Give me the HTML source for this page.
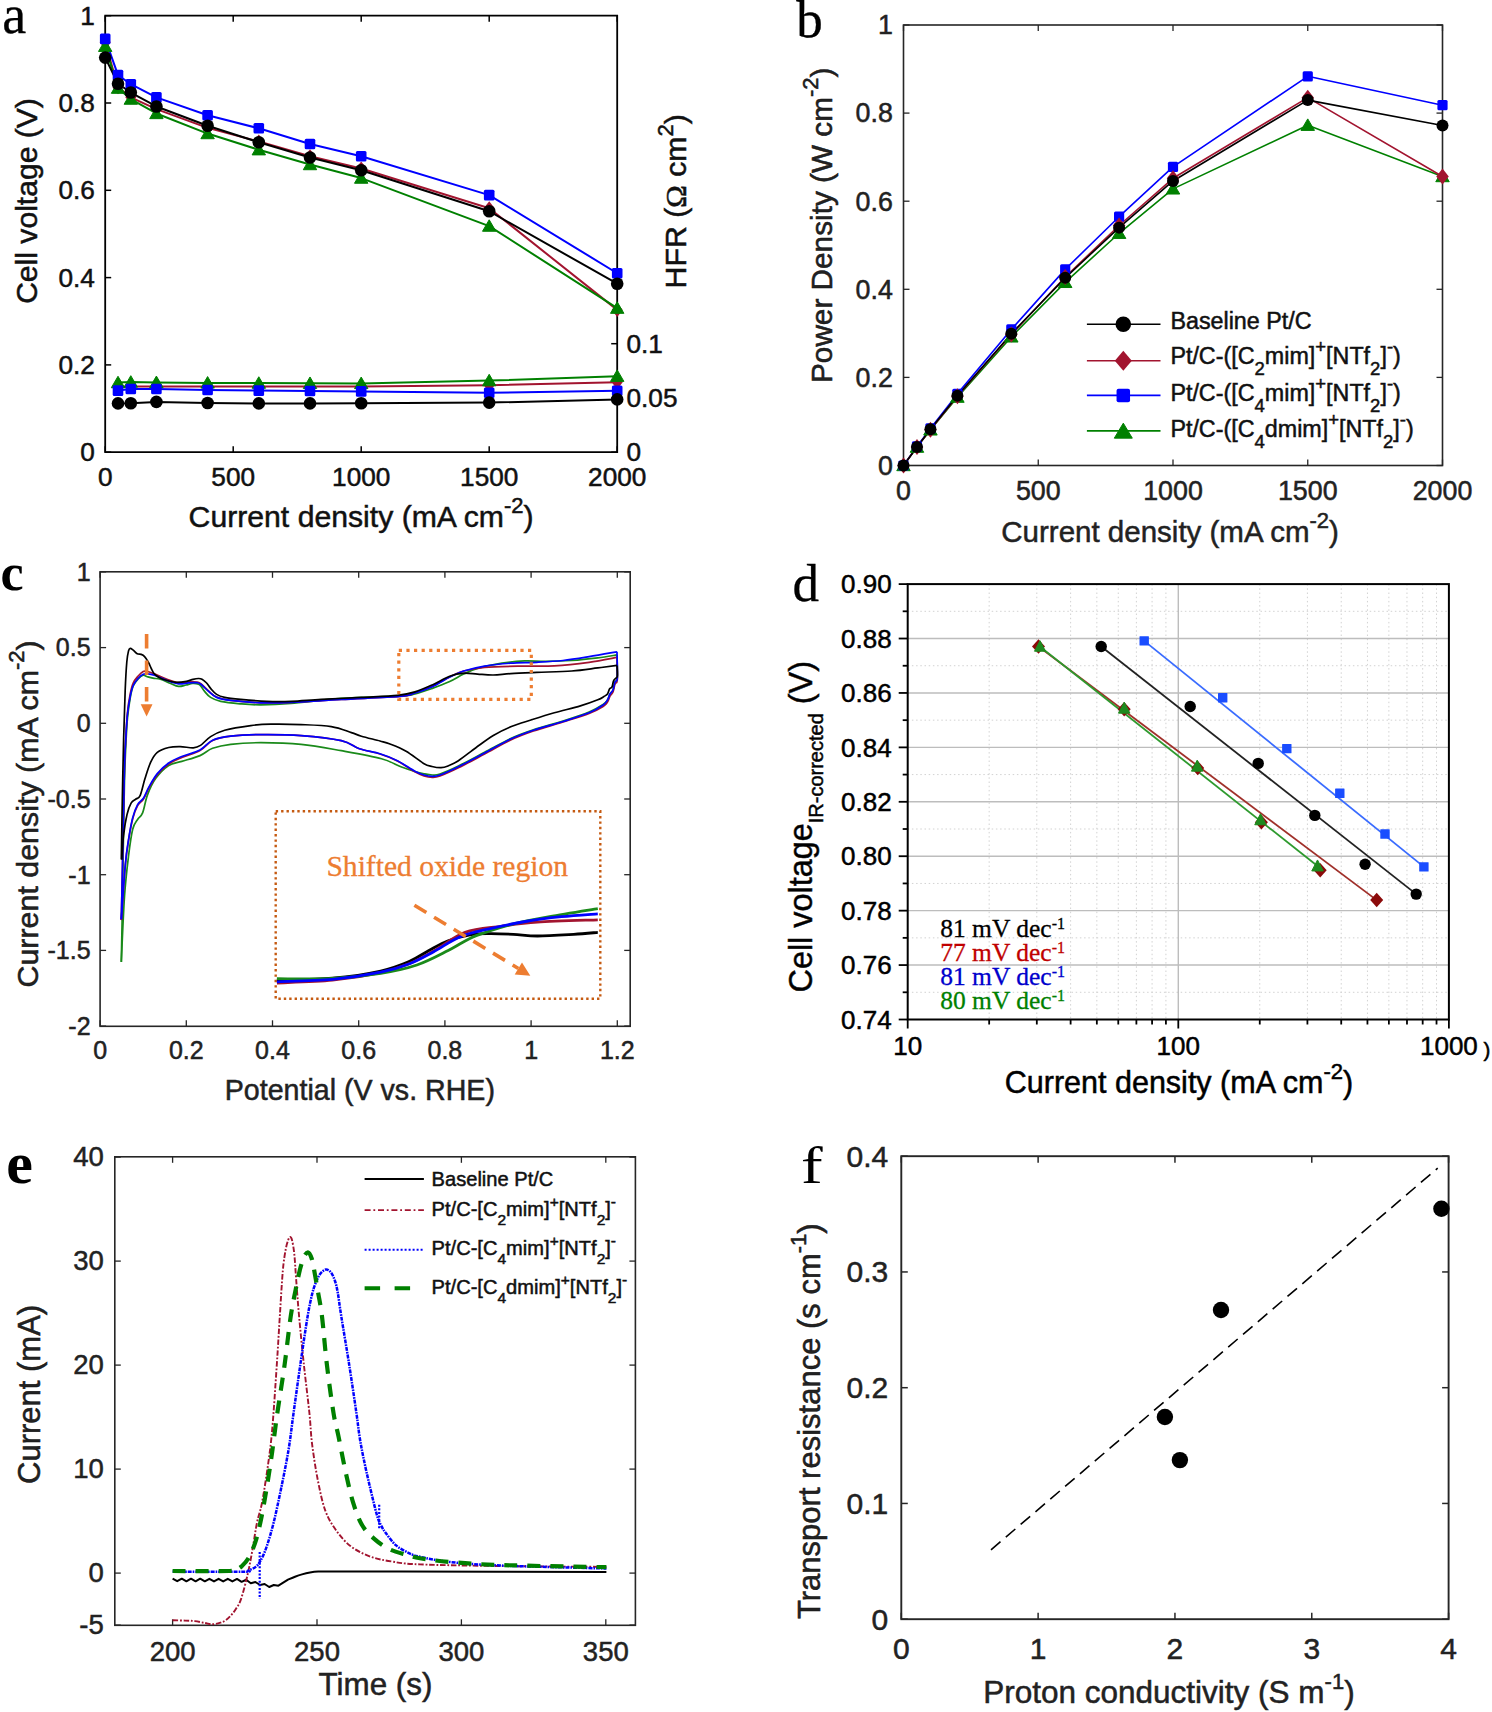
<!DOCTYPE html>
<html><head><meta charset="utf-8"><style>
html,body{margin:0;padding:0;background:#fff;}
svg{display:block;}

</style></head><body>
<svg width="1492" height="1712" viewBox="0 0 1492 1712">
<rect width="1492" height="1712" fill="#fff"/>
<line x1="105.2" y1="452.2" x2="105.2" y2="446.2" stroke="#000000" stroke-width="1.5" />
<line x1="105.2" y1="15.7" x2="105.2" y2="21.7" stroke="#000000" stroke-width="1.5" />
<text x="105.2" y="485.5" font-size="26.2" text-anchor="middle" font-family='"Liberation Sans", sans-serif' fill="#111" stroke="#111" stroke-width="0.5" >0</text>
<line x1="233.2" y1="452.2" x2="233.2" y2="446.2" stroke="#000000" stroke-width="1.5" />
<line x1="233.2" y1="15.7" x2="233.2" y2="21.7" stroke="#000000" stroke-width="1.5" />
<text x="233.2" y="485.5" font-size="26.2" text-anchor="middle" font-family='"Liberation Sans", sans-serif' fill="#111" stroke="#111" stroke-width="0.5" >500</text>
<line x1="361.2" y1="452.2" x2="361.2" y2="446.2" stroke="#000000" stroke-width="1.5" />
<line x1="361.2" y1="15.7" x2="361.2" y2="21.7" stroke="#000000" stroke-width="1.5" />
<text x="361.2" y="485.5" font-size="26.2" text-anchor="middle" font-family='"Liberation Sans", sans-serif' fill="#111" stroke="#111" stroke-width="0.5" >1000</text>
<line x1="489.2" y1="452.2" x2="489.2" y2="446.2" stroke="#000000" stroke-width="1.5" />
<line x1="489.2" y1="15.7" x2="489.2" y2="21.7" stroke="#000000" stroke-width="1.5" />
<text x="489.2" y="485.5" font-size="26.2" text-anchor="middle" font-family='"Liberation Sans", sans-serif' fill="#111" stroke="#111" stroke-width="0.5" >1500</text>
<line x1="617.2" y1="452.2" x2="617.2" y2="446.2" stroke="#000000" stroke-width="1.5" />
<line x1="617.2" y1="15.7" x2="617.2" y2="21.7" stroke="#000000" stroke-width="1.5" />
<text x="617.2" y="485.5" font-size="26.2" text-anchor="middle" font-family='"Liberation Sans", sans-serif' fill="#111" stroke="#111" stroke-width="0.5" >2000</text>
<line x1="105.2" y1="452.2" x2="111.2" y2="452.2" stroke="#000000" stroke-width="1.5" />
<text x="94.8" y="461.3" font-size="26.2" text-anchor="end" font-family='"Liberation Sans", sans-serif' fill="#111" stroke="#111" stroke-width="0.5" >0</text>
<line x1="105.2" y1="364.9" x2="111.2" y2="364.9" stroke="#000000" stroke-width="1.5" />
<text x="94.8" y="374" font-size="26.2" text-anchor="end" font-family='"Liberation Sans", sans-serif' fill="#111" stroke="#111" stroke-width="0.5" >0.2</text>
<line x1="105.2" y1="277.6" x2="111.2" y2="277.6" stroke="#000000" stroke-width="1.5" />
<text x="94.8" y="286.7" font-size="26.2" text-anchor="end" font-family='"Liberation Sans", sans-serif' fill="#111" stroke="#111" stroke-width="0.5" >0.4</text>
<line x1="105.2" y1="190.3" x2="111.2" y2="190.3" stroke="#000000" stroke-width="1.5" />
<text x="94.8" y="199.4" font-size="26.2" text-anchor="end" font-family='"Liberation Sans", sans-serif' fill="#111" stroke="#111" stroke-width="0.5" >0.6</text>
<line x1="105.2" y1="103" x2="111.2" y2="103" stroke="#000000" stroke-width="1.5" />
<text x="94.8" y="112.1" font-size="26.2" text-anchor="end" font-family='"Liberation Sans", sans-serif' fill="#111" stroke="#111" stroke-width="0.5" >0.8</text>
<line x1="105.2" y1="15.7" x2="111.2" y2="15.7" stroke="#000000" stroke-width="1.5" />
<text x="94.8" y="24.8" font-size="26.2" text-anchor="end" font-family='"Liberation Sans", sans-serif' fill="#111" stroke="#111" stroke-width="0.5" >1</text>
<line x1="617.2" y1="452.2" x2="611.2" y2="452.2" stroke="#000000" stroke-width="1.5" />
<text x="626.5" y="461.3" font-size="26.2" text-anchor="start" font-family='"Liberation Sans", sans-serif' fill="#111" stroke="#111" stroke-width="0.5" >0</text>
<line x1="617.2" y1="397.95" x2="611.2" y2="397.95" stroke="#000000" stroke-width="1.5" />
<text x="626.5" y="407.05" font-size="26.2" text-anchor="start" font-family='"Liberation Sans", sans-serif' fill="#111" stroke="#111" stroke-width="0.5" >0.05</text>
<line x1="617.2" y1="343.7" x2="611.2" y2="343.7" stroke="#000000" stroke-width="1.5" />
<text x="626.5" y="352.8" font-size="26.2" text-anchor="start" font-family='"Liberation Sans", sans-serif' fill="#111" stroke="#111" stroke-width="0.5" >0.1</text>
<path d="M105.2,15.7 L617.2,15.7 L617.2,452.2 L105.2,452.2 Z" fill="none" stroke="#000" stroke-width="1.8"/>
<path d="M105.2,42.33 L118,87.29 L130.8,97.33 L156.4,109.11 L207.6,127.88 L258.8,141.41 L310,156.25 L361.2,168.47 L489.2,208.2 L617.2,309.9" fill="none" stroke="#a2142f" stroke-width="2" stroke-linejoin="round" />
<path d="M118,387 L130.8,386.4 L156.4,386.4 L207.6,386.6 L258.8,386.6 L310,386.5 L361.2,386.4 L489.2,385.2 L617.2,382.2" fill="none" stroke="#a2142f" stroke-width="2" stroke-linejoin="round" />
<path d="M105.2,46.25 L118,88.16 L130.8,99.07 L156.4,113.48 L207.6,133.56 L258.8,149.71 L310,164.55 L361.2,178.08 L489.2,226.09 L617.2,308.15" fill="none" stroke="#008000" stroke-width="2" stroke-linejoin="round" />
<path d="M118,382.6 L130.8,382 L156.4,382.4 L207.6,382.9 L258.8,383.1 L310,383.3 L361.2,383.4 L489.2,380.6 L617.2,376.2" fill="none" stroke="#008000" stroke-width="2" stroke-linejoin="round" />
<path d="M105.2,38.83 L118,75.06 L130.8,84.23 L156.4,97.33 L207.6,115.22 L258.8,128.32 L310,144.03 L361.2,156.25 L489.2,195.1 L617.2,273.24" fill="none" stroke="#0000ff" stroke-width="2" stroke-linejoin="round" />
<path d="M118,390.6 L130.8,389 L156.4,389 L207.6,390 L258.8,390.6 L310,391 L361.2,391.4 L489.2,392.8 L617.2,390.8" fill="none" stroke="#0000ff" stroke-width="2" stroke-linejoin="round" />
<path d="M105.2,57.6 L118,83.79 L130.8,92.52 L156.4,106.49 L207.6,125.7 L258.8,142.29 L310,157.56 L361.2,170.22 L489.2,211.25 L617.2,283.71" fill="none" stroke="#000000" stroke-width="2" stroke-linejoin="round" />
<path d="M118,403.4 L130.8,403.2 L156.4,401.9 L207.6,403 L258.8,403.4 L310,403.4 L361.2,403.3 L489.2,402.6 L617.2,399.4" fill="none" stroke="#000000" stroke-width="2" stroke-linejoin="round" />
<path d="M105.2,35.33 L110.7,42.33 L105.2,49.33 L99.7,42.33 Z" fill="#a2142f"/>
<path d="M118,80.29 L123.5,87.29 L118,94.29 L112.5,87.29 Z" fill="#a2142f"/>
<path d="M130.8,90.33 L136.3,97.33 L130.8,104.33 L125.3,97.33 Z" fill="#a2142f"/>
<path d="M156.4,102.11 L161.9,109.11 L156.4,116.11 L150.9,109.11 Z" fill="#a2142f"/>
<path d="M207.6,120.88 L213.1,127.88 L207.6,134.88 L202.1,127.88 Z" fill="#a2142f"/>
<path d="M258.8,134.41 L264.3,141.41 L258.8,148.41 L253.3,141.41 Z" fill="#a2142f"/>
<path d="M310,149.25 L315.5,156.25 L310,163.25 L304.5,156.25 Z" fill="#a2142f"/>
<path d="M361.2,161.47 L366.7,168.47 L361.2,175.47 L355.7,168.47 Z" fill="#a2142f"/>
<path d="M489.2,201.2 L494.7,208.2 L489.2,215.2 L483.7,208.2 Z" fill="#a2142f"/>
<path d="M617.2,302.9 L622.7,309.9 L617.2,316.9 L611.7,309.9 Z" fill="#a2142f"/>
<path d="M118,380 L123.5,387 L118,394 L112.5,387 Z" fill="#a2142f"/>
<path d="M130.8,379.4 L136.3,386.4 L130.8,393.4 L125.3,386.4 Z" fill="#a2142f"/>
<path d="M156.4,379.4 L161.9,386.4 L156.4,393.4 L150.9,386.4 Z" fill="#a2142f"/>
<path d="M207.6,379.6 L213.1,386.6 L207.6,393.6 L202.1,386.6 Z" fill="#a2142f"/>
<path d="M258.8,379.6 L264.3,386.6 L258.8,393.6 L253.3,386.6 Z" fill="#a2142f"/>
<path d="M310,379.5 L315.5,386.5 L310,393.5 L304.5,386.5 Z" fill="#a2142f"/>
<path d="M361.2,379.4 L366.7,386.4 L361.2,393.4 L355.7,386.4 Z" fill="#a2142f"/>
<path d="M489.2,378.2 L494.7,385.2 L489.2,392.2 L483.7,385.2 Z" fill="#a2142f"/>
<path d="M617.2,375.2 L622.7,382.2 L617.2,389.2 L611.7,382.2 Z" fill="#a2142f"/>
<path d="M105.2,39.93 L111.9,51.43 L98.5,51.43 Z" fill="#008000" stroke="#008000" stroke-width="1" stroke-linejoin="round"/>
<path d="M118,81.83 L124.7,93.33 L111.3,93.33 Z" fill="#008000" stroke="#008000" stroke-width="1" stroke-linejoin="round"/>
<path d="M130.8,92.75 L137.5,104.25 L124.1,104.25 Z" fill="#008000" stroke="#008000" stroke-width="1" stroke-linejoin="round"/>
<path d="M156.4,107.15 L163.1,118.65 L149.7,118.65 Z" fill="#008000" stroke="#008000" stroke-width="1" stroke-linejoin="round"/>
<path d="M207.6,127.23 L214.3,138.73 L200.9,138.73 Z" fill="#008000" stroke="#008000" stroke-width="1" stroke-linejoin="round"/>
<path d="M258.8,143.38 L265.5,154.88 L252.1,154.88 Z" fill="#008000" stroke="#008000" stroke-width="1" stroke-linejoin="round"/>
<path d="M310,158.22 L316.7,169.72 L303.3,169.72 Z" fill="#008000" stroke="#008000" stroke-width="1" stroke-linejoin="round"/>
<path d="M361.2,171.75 L367.9,183.25 L354.5,183.25 Z" fill="#008000" stroke="#008000" stroke-width="1" stroke-linejoin="round"/>
<path d="M489.2,219.77 L495.9,231.27 L482.5,231.27 Z" fill="#008000" stroke="#008000" stroke-width="1" stroke-linejoin="round"/>
<path d="M617.2,301.83 L623.9,313.33 L610.5,313.33 Z" fill="#008000" stroke="#008000" stroke-width="1" stroke-linejoin="round"/>
<path d="M118,376.28 L124.7,387.78 L111.3,387.78 Z" fill="#008000" stroke="#008000" stroke-width="1" stroke-linejoin="round"/>
<path d="M130.8,375.68 L137.5,387.18 L124.1,387.18 Z" fill="#008000" stroke="#008000" stroke-width="1" stroke-linejoin="round"/>
<path d="M156.4,376.07 L163.1,387.57 L149.7,387.57 Z" fill="#008000" stroke="#008000" stroke-width="1" stroke-linejoin="round"/>
<path d="M207.6,376.57 L214.3,388.07 L200.9,388.07 Z" fill="#008000" stroke="#008000" stroke-width="1" stroke-linejoin="round"/>
<path d="M258.8,376.78 L265.5,388.28 L252.1,388.28 Z" fill="#008000" stroke="#008000" stroke-width="1" stroke-linejoin="round"/>
<path d="M310,376.98 L316.7,388.48 L303.3,388.48 Z" fill="#008000" stroke="#008000" stroke-width="1" stroke-linejoin="round"/>
<path d="M361.2,377.07 L367.9,388.57 L354.5,388.57 Z" fill="#008000" stroke="#008000" stroke-width="1" stroke-linejoin="round"/>
<path d="M489.2,374.28 L495.9,385.78 L482.5,385.78 Z" fill="#008000" stroke="#008000" stroke-width="1" stroke-linejoin="round"/>
<path d="M617.2,369.88 L623.9,381.38 L610.5,381.38 Z" fill="#008000" stroke="#008000" stroke-width="1" stroke-linejoin="round"/>
<rect x="99.9" y="33.53" width="10.6" height="10.6" rx="1.5" fill="#0000ff"/>
<rect x="112.7" y="69.76" width="10.6" height="10.6" rx="1.5" fill="#0000ff"/>
<rect x="125.5" y="78.93" width="10.6" height="10.6" rx="1.5" fill="#0000ff"/>
<rect x="151.1" y="92.03" width="10.6" height="10.6" rx="1.5" fill="#0000ff"/>
<rect x="202.3" y="109.92" width="10.6" height="10.6" rx="1.5" fill="#0000ff"/>
<rect x="253.5" y="123.02" width="10.6" height="10.6" rx="1.5" fill="#0000ff"/>
<rect x="304.7" y="138.73" width="10.6" height="10.6" rx="1.5" fill="#0000ff"/>
<rect x="355.9" y="150.95" width="10.6" height="10.6" rx="1.5" fill="#0000ff"/>
<rect x="483.9" y="189.8" width="10.6" height="10.6" rx="1.5" fill="#0000ff"/>
<rect x="611.9" y="267.94" width="10.6" height="10.6" rx="1.5" fill="#0000ff"/>
<rect x="112.7" y="385.3" width="10.6" height="10.6" rx="1.5" fill="#0000ff"/>
<rect x="125.5" y="383.7" width="10.6" height="10.6" rx="1.5" fill="#0000ff"/>
<rect x="151.1" y="383.7" width="10.6" height="10.6" rx="1.5" fill="#0000ff"/>
<rect x="202.3" y="384.7" width="10.6" height="10.6" rx="1.5" fill="#0000ff"/>
<rect x="253.5" y="385.3" width="10.6" height="10.6" rx="1.5" fill="#0000ff"/>
<rect x="304.7" y="385.7" width="10.6" height="10.6" rx="1.5" fill="#0000ff"/>
<rect x="355.9" y="386.1" width="10.6" height="10.6" rx="1.5" fill="#0000ff"/>
<rect x="483.9" y="387.5" width="10.6" height="10.6" rx="1.5" fill="#0000ff"/>
<rect x="611.9" y="385.5" width="10.6" height="10.6" rx="1.5" fill="#0000ff"/>
<circle cx="105.2" cy="57.6" r="6.3" fill="#000000"/>
<circle cx="118" cy="83.79" r="6.3" fill="#000000"/>
<circle cx="130.8" cy="92.52" r="6.3" fill="#000000"/>
<circle cx="156.4" cy="106.49" r="6.3" fill="#000000"/>
<circle cx="207.6" cy="125.7" r="6.3" fill="#000000"/>
<circle cx="258.8" cy="142.29" r="6.3" fill="#000000"/>
<circle cx="310" cy="157.56" r="6.3" fill="#000000"/>
<circle cx="361.2" cy="170.22" r="6.3" fill="#000000"/>
<circle cx="489.2" cy="211.25" r="6.3" fill="#000000"/>
<circle cx="617.2" cy="283.71" r="6.3" fill="#000000"/>
<circle cx="118" cy="403.4" r="6.3" fill="#000000"/>
<circle cx="130.8" cy="403.2" r="6.3" fill="#000000"/>
<circle cx="156.4" cy="401.9" r="6.3" fill="#000000"/>
<circle cx="207.6" cy="403" r="6.3" fill="#000000"/>
<circle cx="258.8" cy="403.4" r="6.3" fill="#000000"/>
<circle cx="310" cy="403.4" r="6.3" fill="#000000"/>
<circle cx="361.2" cy="403.3" r="6.3" fill="#000000"/>
<circle cx="489.2" cy="402.6" r="6.3" fill="#000000"/>
<circle cx="617.2" cy="399.4" r="6.3" fill="#000000"/>
<text x="188.6" y="526.7" font-size="30.2" text-anchor="start" font-family='"Liberation Sans", sans-serif' fill="#111" stroke="#111" stroke-width="0.5" >Current density (mA cm<tspan dy="-14" font-size="22">-2</tspan><tspan dy="14">)</tspan></text>
<text transform="translate(36.6,201) rotate(-90)" stroke="#111" stroke-width="0.5" font-size="30.1" text-anchor="middle" font-family='"Liberation Sans", sans-serif' fill="#111">Cell voltage (V)</text>
<text transform="translate(686.3,288.5) rotate(-90)" stroke="#111" stroke-width="0.5" font-size="30.3" text-anchor="start" font-family='"Liberation Sans", sans-serif' fill="#111">HFR (<tspan font-family='"Liberation Serif", serif'>&#937;</tspan> cm<tspan dy="-13" font-size="22">2</tspan><tspan dy="13">)</tspan></text>
<text x="2.2" y="32.6" font-size="54" text-anchor="start" font-family='"Liberation Serif", serif' fill="#000" stroke="#000" stroke-width="0.3" >a</text>
<line x1="903.5" y1="465.5" x2="903.5" y2="459.5" stroke="#262626" stroke-width="1.3" />
<line x1="903.5" y1="25" x2="903.5" y2="31" stroke="#262626" stroke-width="1.3" />
<text x="903.5" y="499.5" font-size="26.8" text-anchor="middle" font-family='"Liberation Sans", sans-serif' fill="#222" stroke="#222" stroke-width="0.5" >0</text>
<line x1="1038.25" y1="465.5" x2="1038.25" y2="459.5" stroke="#262626" stroke-width="1.3" />
<line x1="1038.25" y1="25" x2="1038.25" y2="31" stroke="#262626" stroke-width="1.3" />
<text x="1038.25" y="499.5" font-size="26.8" text-anchor="middle" font-family='"Liberation Sans", sans-serif' fill="#222" stroke="#222" stroke-width="0.5" >500</text>
<line x1="1173" y1="465.5" x2="1173" y2="459.5" stroke="#262626" stroke-width="1.3" />
<line x1="1173" y1="25" x2="1173" y2="31" stroke="#262626" stroke-width="1.3" />
<text x="1173" y="499.5" font-size="26.8" text-anchor="middle" font-family='"Liberation Sans", sans-serif' fill="#222" stroke="#222" stroke-width="0.5" >1000</text>
<line x1="1307.75" y1="465.5" x2="1307.75" y2="459.5" stroke="#262626" stroke-width="1.3" />
<line x1="1307.75" y1="25" x2="1307.75" y2="31" stroke="#262626" stroke-width="1.3" />
<text x="1307.75" y="499.5" font-size="26.8" text-anchor="middle" font-family='"Liberation Sans", sans-serif' fill="#222" stroke="#222" stroke-width="0.5" >1500</text>
<line x1="1442.5" y1="465.5" x2="1442.5" y2="459.5" stroke="#262626" stroke-width="1.3" />
<line x1="1442.5" y1="25" x2="1442.5" y2="31" stroke="#262626" stroke-width="1.3" />
<text x="1442.5" y="499.5" font-size="26.8" text-anchor="middle" font-family='"Liberation Sans", sans-serif' fill="#222" stroke="#222" stroke-width="0.5" >2000</text>
<line x1="903.5" y1="465.5" x2="909.5" y2="465.5" stroke="#262626" stroke-width="1.3" />
<line x1="1442.5" y1="465.5" x2="1436.5" y2="465.5" stroke="#262626" stroke-width="1.3" />
<text x="892.8" y="474.8" font-size="26.8" text-anchor="end" font-family='"Liberation Sans", sans-serif' fill="#222" stroke="#222" stroke-width="0.5" >0</text>
<line x1="903.5" y1="377.4" x2="909.5" y2="377.4" stroke="#262626" stroke-width="1.3" />
<line x1="1442.5" y1="377.4" x2="1436.5" y2="377.4" stroke="#262626" stroke-width="1.3" />
<text x="892.8" y="386.7" font-size="26.8" text-anchor="end" font-family='"Liberation Sans", sans-serif' fill="#222" stroke="#222" stroke-width="0.5" >0.2</text>
<line x1="903.5" y1="289.3" x2="909.5" y2="289.3" stroke="#262626" stroke-width="1.3" />
<line x1="1442.5" y1="289.3" x2="1436.5" y2="289.3" stroke="#262626" stroke-width="1.3" />
<text x="892.8" y="298.6" font-size="26.8" text-anchor="end" font-family='"Liberation Sans", sans-serif' fill="#222" stroke="#222" stroke-width="0.5" >0.4</text>
<line x1="903.5" y1="201.2" x2="909.5" y2="201.2" stroke="#262626" stroke-width="1.3" />
<line x1="1442.5" y1="201.2" x2="1436.5" y2="201.2" stroke="#262626" stroke-width="1.3" />
<text x="892.8" y="210.5" font-size="26.8" text-anchor="end" font-family='"Liberation Sans", sans-serif' fill="#222" stroke="#222" stroke-width="0.5" >0.6</text>
<line x1="903.5" y1="113.1" x2="909.5" y2="113.1" stroke="#262626" stroke-width="1.3" />
<line x1="1442.5" y1="113.1" x2="1436.5" y2="113.1" stroke="#262626" stroke-width="1.3" />
<text x="892.8" y="122.4" font-size="26.8" text-anchor="end" font-family='"Liberation Sans", sans-serif' fill="#222" stroke="#222" stroke-width="0.5" >0.8</text>
<line x1="903.5" y1="25" x2="909.5" y2="25" stroke="#262626" stroke-width="1.3" />
<line x1="1442.5" y1="25" x2="1436.5" y2="25" stroke="#262626" stroke-width="1.3" />
<text x="892.8" y="34.3" font-size="26.8" text-anchor="end" font-family='"Liberation Sans", sans-serif' fill="#222" stroke="#222" stroke-width="0.5" >1</text>
<rect x="903.5" y="25.0" width="539.0" height="440.5" fill="none" stroke="#262626" stroke-width="1.6"/>
<path d="M903.5,465.5 L916.98,447.13 L930.45,429.86 L957.4,397.13 L1011.3,336.87 L1065.2,282.34 L1119.1,233.27 L1173,188.87 L1307.75,125.21 L1442.5,176.53" fill="none" stroke="#008000" stroke-width="1.6" stroke-linejoin="round" />
<path d="M903.5,465.5 L916.98,446.47 L930.45,428.37 L957.4,393.87 L1011.3,329.47 L1065.2,269.39 L1119.1,216.71 L1173,166.84 L1307.75,76.32 L1442.5,105.17" fill="none" stroke="#0000ff" stroke-width="1.6" stroke-linejoin="round" />
<path d="M903.5,465.5 L916.98,447.09 L930.45,429.69 L957.4,396.25 L1011.3,334.58 L1065.2,277.05 L1119.1,225.52 L1173,178.29 L1307.75,97.66 L1442.5,176.53" fill="none" stroke="#a2142f" stroke-width="1.6" stroke-linejoin="round" />
<path d="M903.5,465.5 L916.98,446.91 L930.45,429.2 L957.4,395.72 L1011.3,333.7 L1065.2,277.85 L1119.1,227.63 L1173,180.94 L1307.75,100.11 L1442.5,125.43" fill="none" stroke="#000000" stroke-width="1.6" stroke-linejoin="round" />
<path d="M903.5,459.18 L910.25,470.68 L896.75,470.68 Z" fill="#008000" stroke="#008000" stroke-width="1" stroke-linejoin="round"/>
<path d="M916.98,440.81 L923.73,452.31 L910.23,452.31 Z" fill="#008000" stroke="#008000" stroke-width="1" stroke-linejoin="round"/>
<path d="M930.45,423.54 L937.2,435.04 L923.7,435.04 Z" fill="#008000" stroke="#008000" stroke-width="1" stroke-linejoin="round"/>
<path d="M957.4,390.81 L964.15,402.31 L950.65,402.31 Z" fill="#008000" stroke="#008000" stroke-width="1" stroke-linejoin="round"/>
<path d="M1011.3,330.55 L1018.05,342.05 L1004.55,342.05 Z" fill="#008000" stroke="#008000" stroke-width="1" stroke-linejoin="round"/>
<path d="M1065.2,276.02 L1071.95,287.52 L1058.45,287.52 Z" fill="#008000" stroke="#008000" stroke-width="1" stroke-linejoin="round"/>
<path d="M1119.1,226.94 L1125.85,238.44 L1112.35,238.44 Z" fill="#008000" stroke="#008000" stroke-width="1" stroke-linejoin="round"/>
<path d="M1173,182.54 L1179.75,194.04 L1166.25,194.04 Z" fill="#008000" stroke="#008000" stroke-width="1" stroke-linejoin="round"/>
<path d="M1307.75,118.89 L1314.5,130.39 L1301,130.39 Z" fill="#008000" stroke="#008000" stroke-width="1" stroke-linejoin="round"/>
<path d="M1442.5,170.21 L1449.25,181.71 L1435.75,181.71 Z" fill="#008000" stroke="#008000" stroke-width="1" stroke-linejoin="round"/>
<rect x="898.4" y="460.4" width="10.2" height="10.2" rx="1.5" fill="#0000ff"/>
<rect x="911.88" y="441.37" width="10.2" height="10.2" rx="1.5" fill="#0000ff"/>
<rect x="925.35" y="423.27" width="10.2" height="10.2" rx="1.5" fill="#0000ff"/>
<rect x="952.3" y="388.77" width="10.2" height="10.2" rx="1.5" fill="#0000ff"/>
<rect x="1006.2" y="324.37" width="10.2" height="10.2" rx="1.5" fill="#0000ff"/>
<rect x="1060.1" y="264.29" width="10.2" height="10.2" rx="1.5" fill="#0000ff"/>
<rect x="1114" y="211.61" width="10.2" height="10.2" rx="1.5" fill="#0000ff"/>
<rect x="1167.9" y="161.74" width="10.2" height="10.2" rx="1.5" fill="#0000ff"/>
<rect x="1302.65" y="71.22" width="10.2" height="10.2" rx="1.5" fill="#0000ff"/>
<rect x="1437.4" y="100.07" width="10.2" height="10.2" rx="1.5" fill="#0000ff"/>
<path d="M903.5,457.5 L909.75,465.5 L903.5,473.5 L897.25,465.5 Z" fill="#a2142f"/>
<path d="M916.98,439.09 L923.23,447.09 L916.98,455.09 L910.73,447.09 Z" fill="#a2142f"/>
<path d="M930.45,421.69 L936.7,429.69 L930.45,437.69 L924.2,429.69 Z" fill="#a2142f"/>
<path d="M957.4,388.25 L963.65,396.25 L957.4,404.25 L951.15,396.25 Z" fill="#a2142f"/>
<path d="M1011.3,326.58 L1017.55,334.58 L1011.3,342.58 L1005.05,334.58 Z" fill="#a2142f"/>
<path d="M1065.2,269.05 L1071.45,277.05 L1065.2,285.05 L1058.95,277.05 Z" fill="#a2142f"/>
<path d="M1119.1,217.52 L1125.35,225.52 L1119.1,233.52 L1112.85,225.52 Z" fill="#a2142f"/>
<path d="M1173,170.29 L1179.25,178.29 L1173,186.29 L1166.75,178.29 Z" fill="#a2142f"/>
<path d="M1307.75,89.66 L1314,97.66 L1307.75,105.66 L1301.5,97.66 Z" fill="#a2142f"/>
<path d="M1442.5,168.53 L1448.75,176.53 L1442.5,184.53 L1436.25,176.53 Z" fill="#a2142f"/>
<circle cx="903.5" cy="465.5" r="6" fill="#000000"/>
<circle cx="916.98" cy="446.91" r="6" fill="#000000"/>
<circle cx="930.45" cy="429.2" r="6" fill="#000000"/>
<circle cx="957.4" cy="395.72" r="6" fill="#000000"/>
<circle cx="1011.3" cy="333.7" r="6" fill="#000000"/>
<circle cx="1065.2" cy="277.85" r="6" fill="#000000"/>
<circle cx="1119.1" cy="227.63" r="6" fill="#000000"/>
<circle cx="1173" cy="180.94" r="6" fill="#000000"/>
<circle cx="1307.75" cy="100.11" r="6" fill="#000000"/>
<circle cx="1442.5" cy="125.43" r="6" fill="#000000"/>
<line x1="1086.9" y1="324.3" x2="1160.5" y2="324.3" stroke="#000000" stroke-width="1.6" />
<circle cx="1123.3" cy="324.3" r="7.8" fill="#000000"/>
<line x1="1086.9" y1="360.7" x2="1160.5" y2="360.7" stroke="#a2142f" stroke-width="1.6" />
<path d="M1123.3,350.7 L1131.8,360.7 L1123.3,370.7 L1114.8,360.7 Z" fill="#a2142f"/>
<line x1="1086.9" y1="395.4" x2="1160.5" y2="395.4" stroke="#0000ff" stroke-width="1.6" />
<rect x="1116.55" y="388.65" width="13.5" height="13.5" rx="2" fill="#0000ff"/>
<line x1="1086.9" y1="430.9" x2="1160.5" y2="430.9" stroke="#008000" stroke-width="1.6" />
<path d="M1123.3,423.15 L1132.3,438.15 L1114.3,438.15 Z" fill="#008000" stroke="#008000" stroke-width="1" stroke-linejoin="round"/>
<text x="1170.4" y="329.2" font-size="23.3" text-anchor="start" font-family='"Liberation Sans", sans-serif' fill="#111" stroke="#111" stroke-width="0.5" >Baseline Pt/C</text>
<text x="1170.4" y="364.4" font-size="23.3" text-anchor="start" font-family='"Liberation Sans", sans-serif' fill="#111" stroke="#111" stroke-width="0.5" >Pt/C-([C<tspan dy="11" font-size="18.5">2</tspan><tspan dy="-11">mim]</tspan><tspan dy="-11" font-size="18.5">+</tspan><tspan dy="11">[NTf</tspan><tspan dy="11" font-size="18.5">2</tspan><tspan dy="-11">]</tspan><tspan dy="-11" font-size="18.5">-</tspan><tspan dy="11">)</tspan></text>
<text x="1170.4" y="400.6" font-size="23.3" text-anchor="start" font-family='"Liberation Sans", sans-serif' fill="#111" stroke="#111" stroke-width="0.5" >Pt/C-([C<tspan dy="11" font-size="18.5">4</tspan><tspan dy="-11">mim]</tspan><tspan dy="-11" font-size="18.5">+</tspan><tspan dy="11">[NTf</tspan><tspan dy="11" font-size="18.5">2</tspan><tspan dy="-11">]</tspan><tspan dy="-11" font-size="18.5">-</tspan><tspan dy="11">)</tspan></text>
<text x="1170.4" y="437" font-size="23.3" text-anchor="start" font-family='"Liberation Sans", sans-serif' fill="#111" stroke="#111" stroke-width="0.5" >Pt/C-([C<tspan dy="11" font-size="18.5">4</tspan><tspan dy="-11">dmim]</tspan><tspan dy="-11" font-size="18.5">+</tspan><tspan dy="11">[NTf</tspan><tspan dy="11" font-size="18.5">2</tspan><tspan dy="-11">]</tspan><tspan dy="-11" font-size="18.5">-</tspan><tspan dy="11">)</tspan></text>
<text x="1001.3" y="542.4" font-size="29.5" text-anchor="start" font-family='"Liberation Sans", sans-serif' fill="#222" stroke="#222" stroke-width="0.5" >Current density (mA cm<tspan dy="-14" font-size="22">-2</tspan><tspan dy="14">)</tspan></text>
<text transform="translate(831.9,383) rotate(-90)" stroke="#111" stroke-width="0.5" font-size="29.75" text-anchor="start" font-family='"Liberation Sans", sans-serif' fill="#222">Power Density (W cm<tspan dy="-14" font-size="22">-2</tspan><tspan dy="14">)</tspan></text>
<text x="796.2" y="37" font-size="53" text-anchor="start" font-family='"Liberation Serif", serif' fill="#000" stroke="#000" stroke-width="0.3" >b</text>
<line x1="100.1" y1="1026.3" x2="100.1" y2="1020.3" stroke="#262626" stroke-width="1.3" />
<line x1="100.1" y1="571.8" x2="100.1" y2="577.8" stroke="#262626" stroke-width="1.3" />
<text x="100.1" y="1058.6" font-size="25" text-anchor="middle" font-family='"Liberation Sans", sans-serif' fill="#222" stroke="#222" stroke-width="0.5" >0</text>
<line x1="186.3" y1="1026.3" x2="186.3" y2="1020.3" stroke="#262626" stroke-width="1.3" />
<line x1="186.3" y1="571.8" x2="186.3" y2="577.8" stroke="#262626" stroke-width="1.3" />
<text x="186.3" y="1058.6" font-size="25" text-anchor="middle" font-family='"Liberation Sans", sans-serif' fill="#222" stroke="#222" stroke-width="0.5" >0.2</text>
<line x1="272.5" y1="1026.3" x2="272.5" y2="1020.3" stroke="#262626" stroke-width="1.3" />
<line x1="272.5" y1="571.8" x2="272.5" y2="577.8" stroke="#262626" stroke-width="1.3" />
<text x="272.5" y="1058.6" font-size="25" text-anchor="middle" font-family='"Liberation Sans", sans-serif' fill="#222" stroke="#222" stroke-width="0.5" >0.4</text>
<line x1="358.7" y1="1026.3" x2="358.7" y2="1020.3" stroke="#262626" stroke-width="1.3" />
<line x1="358.7" y1="571.8" x2="358.7" y2="577.8" stroke="#262626" stroke-width="1.3" />
<text x="358.7" y="1058.6" font-size="25" text-anchor="middle" font-family='"Liberation Sans", sans-serif' fill="#222" stroke="#222" stroke-width="0.5" >0.6</text>
<line x1="444.9" y1="1026.3" x2="444.9" y2="1020.3" stroke="#262626" stroke-width="1.3" />
<line x1="444.9" y1="571.8" x2="444.9" y2="577.8" stroke="#262626" stroke-width="1.3" />
<text x="444.9" y="1058.6" font-size="25" text-anchor="middle" font-family='"Liberation Sans", sans-serif' fill="#222" stroke="#222" stroke-width="0.5" >0.8</text>
<line x1="531.1" y1="1026.3" x2="531.1" y2="1020.3" stroke="#262626" stroke-width="1.3" />
<line x1="531.1" y1="571.8" x2="531.1" y2="577.8" stroke="#262626" stroke-width="1.3" />
<text x="531.1" y="1058.6" font-size="25" text-anchor="middle" font-family='"Liberation Sans", sans-serif' fill="#222" stroke="#222" stroke-width="0.5" >1</text>
<line x1="617.3" y1="1026.3" x2="617.3" y2="1020.3" stroke="#262626" stroke-width="1.3" />
<line x1="617.3" y1="571.8" x2="617.3" y2="577.8" stroke="#262626" stroke-width="1.3" />
<text x="617.3" y="1058.6" font-size="25" text-anchor="middle" font-family='"Liberation Sans", sans-serif' fill="#222" stroke="#222" stroke-width="0.5" >1.2</text>
<line x1="100.1" y1="571.9" x2="106.1" y2="571.9" stroke="#262626" stroke-width="1.3" />
<line x1="630.2" y1="571.9" x2="624.2" y2="571.9" stroke="#262626" stroke-width="1.3" />
<text x="90.6" y="580.7" font-size="25" text-anchor="end" font-family='"Liberation Sans", sans-serif' fill="#222" stroke="#222" stroke-width="0.5" >1</text>
<line x1="100.1" y1="647.6" x2="106.1" y2="647.6" stroke="#262626" stroke-width="1.3" />
<line x1="630.2" y1="647.6" x2="624.2" y2="647.6" stroke="#262626" stroke-width="1.3" />
<text x="90.6" y="656.4" font-size="25" text-anchor="end" font-family='"Liberation Sans", sans-serif' fill="#222" stroke="#222" stroke-width="0.5" >0.5</text>
<line x1="100.1" y1="723.3" x2="106.1" y2="723.3" stroke="#262626" stroke-width="1.3" />
<line x1="630.2" y1="723.3" x2="624.2" y2="723.3" stroke="#262626" stroke-width="1.3" />
<text x="90.6" y="732.1" font-size="25" text-anchor="end" font-family='"Liberation Sans", sans-serif' fill="#222" stroke="#222" stroke-width="0.5" >0</text>
<line x1="100.1" y1="799" x2="106.1" y2="799" stroke="#262626" stroke-width="1.3" />
<line x1="630.2" y1="799" x2="624.2" y2="799" stroke="#262626" stroke-width="1.3" />
<text x="90.6" y="807.8" font-size="25" text-anchor="end" font-family='"Liberation Sans", sans-serif' fill="#222" stroke="#222" stroke-width="0.5" >-0.5</text>
<line x1="100.1" y1="874.7" x2="106.1" y2="874.7" stroke="#262626" stroke-width="1.3" />
<line x1="630.2" y1="874.7" x2="624.2" y2="874.7" stroke="#262626" stroke-width="1.3" />
<text x="90.6" y="883.5" font-size="25" text-anchor="end" font-family='"Liberation Sans", sans-serif' fill="#222" stroke="#222" stroke-width="0.5" >-1</text>
<line x1="100.1" y1="950.4" x2="106.1" y2="950.4" stroke="#262626" stroke-width="1.3" />
<line x1="630.2" y1="950.4" x2="624.2" y2="950.4" stroke="#262626" stroke-width="1.3" />
<text x="90.6" y="959.2" font-size="25" text-anchor="end" font-family='"Liberation Sans", sans-serif' fill="#222" stroke="#222" stroke-width="0.5" >-1.5</text>
<line x1="100.1" y1="1026.1" x2="106.1" y2="1026.1" stroke="#262626" stroke-width="1.3" />
<line x1="630.2" y1="1026.1" x2="624.2" y2="1026.1" stroke="#262626" stroke-width="1.3" />
<text x="90.6" y="1034.9" font-size="25" text-anchor="end" font-family='"Liberation Sans", sans-serif' fill="#222" stroke="#222" stroke-width="0.5" >-2</text>
<rect x="100.1" y="571.8" width="530.1" height="454.5" fill="none" stroke="#262626" stroke-width="1.6"/>
<clipPath id="clipc"><rect x="100.1" y="571.8" width="530.1" height="454.5"/></clipPath>
<path d="M121.3,961.9 C121.5,951.58 122.15,920.32 122.5,900 C122.85,879.68 123.07,860 123.4,840 C123.73,820 124.07,796.33 124.5,780 C124.93,763.67 125.5,752.33 126,742 C126.5,731.67 126.8,725.33 127.5,718 C128.2,710.67 129.25,703.33 130.2,698 C131.15,692.67 131.87,689.17 133.2,686 C134.53,682.83 136.53,680.78 138.2,679 C139.87,677.22 141.68,675.68 143.2,675.3 C144.72,674.92 145.67,676.22 147.3,676.7 C148.93,677.18 150.83,677.77 153,678.2 C155.17,678.63 157.47,678.47 160.3,679.3 C163.13,680.13 166.98,682.02 170,683.2 C173.02,684.38 175.73,686.1 178.4,686.4 C181.07,686.7 183.65,685.48 186,685 C188.35,684.52 190.42,683.62 192.5,683.5 C194.58,683.38 197,683.72 198.5,684.3 C200,684.88 200.48,685.82 201.5,687 C202.52,688.18 203.08,689.67 204.6,691.4 C206.12,693.13 207.92,695.73 210.6,697.4 C213.28,699.07 215.8,700.33 220.7,701.4 C225.6,702.47 233.3,703.22 240,703.8 C246.7,704.38 252.4,704.95 260.9,704.9 C269.4,704.85 277.6,704.58 291,703.5 C304.4,702.42 323.2,699.65 341.3,698.4 C359.4,697.15 387.33,696.73 399.6,696 C411.87,695.27 409.45,695.27 414.9,694 C420.35,692.73 426.5,690.48 432.3,688.4 C438.1,686.32 444.47,683.88 449.7,681.5 C454.93,679.12 459.05,676.28 463.7,674.1 C468.35,671.92 471.22,670.22 477.6,668.4 C483.98,666.58 494.17,664.45 502,663.2 C509.83,661.95 517.33,661.2 524.6,660.9 C531.87,660.6 537.75,661.47 545.6,661.4 C553.45,661.33 563,661.08 571.7,660.5 C580.4,659.92 590.25,658.83 597.8,657.9 C605.35,656.97 613.8,655.4 617,654.9" fill="none" stroke="#1a8a1a" stroke-width="1.7" stroke-linejoin="round" clip-path="url(#clipc)"/>
<path d="M617,654.9 C617.05,658.75 617.63,673.48 617.3,678 C616.97,682.52 615.72,680 615,682 C614.28,684 613.83,688 613,690 C612.17,692 610.92,692.33 610,694 C609.08,695.67 608.65,698.25 607.5,700 C606.35,701.75 606.17,702.5 603.1,704.5 C600.03,706.5 595.78,709.25 589.1,712 C582.42,714.75 572.28,718.03 563,721 C553.72,723.97 542.12,726.88 533.4,729.8 C524.68,732.72 518.83,734.75 510.7,738.5 C502.57,742.25 493.32,747.72 484.6,752.3 C475.88,756.88 465.83,762.38 458.4,766 C450.97,769.62 444.35,772.5 440,774 C435.65,775.5 434.97,775.03 432.3,775 C429.63,774.97 426.9,774.38 424,773.8 C421.1,773.22 418.75,772.67 414.9,771.5 C411.05,770.33 406.47,768.93 400.9,766.8 C395.33,764.67 391.43,761.38 381.5,758.7 C371.57,756.02 354.7,753.1 341.3,750.7 C327.9,748.3 314.5,745.63 301.1,744.3 C287.7,742.97 272.63,742.7 260.9,742.7 C249.17,742.7 238.75,743.37 230.7,744.3 C222.65,745.23 217.72,746.42 212.6,748.3 C207.48,750.18 205.13,753.42 200,755.6 C194.87,757.78 187.02,759.75 181.8,761.4 C176.58,763.05 173.07,762.63 168.7,765.5 C164.33,768.37 159.13,773.7 155.6,778.6 C152.07,783.5 149.67,789.18 147.5,794.9 C145.33,800.62 144.25,808.8 142.6,812.9 C140.95,817 139.25,816.77 137.6,819.5 C135.95,822.23 134.2,823.3 132.7,829.3 C131.2,835.3 129.97,844.32 128.6,855.5 C127.23,866.68 125.72,878.67 124.5,896.4 C123.28,914.13 121.83,950.98 121.3,961.9" fill="none" stroke="#1a8a1a" stroke-width="1.7" stroke-linejoin="round" clip-path="url(#clipc)"/>
<path d="M121.3,920.1 C121.48,911.75 122.05,886.68 122.4,870 C122.75,853.32 123.05,837.42 123.4,820 C123.75,802.58 124.07,780 124.5,765.5 C124.93,751 125.5,741.92 126,733 C126.5,724.08 126.8,718.5 127.5,712 C128.2,705.5 129.25,698.83 130.2,694 C131.15,689.17 131.87,686 133.2,683 C134.53,680 136.53,677.92 138.2,676 C139.87,674.08 141.68,672.25 143.2,671.5 C144.72,670.75 145.45,671.1 147.3,671.5 C149.15,671.9 151.12,672.65 154.3,673.9 C157.48,675.15 162.38,677.57 166.4,679 C170.42,680.43 174.72,682 178.4,682.5 C182.08,683 185.48,682.08 188.5,682 C191.52,681.92 194.5,681.75 196.5,682 C198.5,682.25 198.48,682 200.5,683.5 C202.52,685 205.92,688.75 208.6,691 C211.28,693.25 212.92,695.43 216.6,697 C220.28,698.57 223.32,699.43 230.7,700.4 C238.08,701.37 250.85,702.47 260.9,702.8 C270.95,703.13 277.6,702.97 291,702.4 C304.4,701.83 323.2,700.4 341.3,699.4 C359.4,698.4 387.33,697.5 399.6,696.4 C411.87,695.3 409.45,694.48 414.9,692.8 C420.35,691.12 426.5,688.95 432.3,686.3 C438.1,683.65 444.47,679.45 449.7,676.9 C454.93,674.35 457.88,672.57 463.7,671 C469.52,669.43 475.32,668.32 484.6,667.5 C493.88,666.68 507.78,666.38 519.4,666.1 C531.02,665.82 542.68,666.43 554.3,665.8 C565.92,665.17 578.65,663.7 589.1,662.3 C599.55,660.9 612.35,658.22 617,657.4" fill="none" stroke="#a2142f" stroke-width="1.7" stroke-linejoin="round" clip-path="url(#clipc)"/>
<path d="M617,657.4 C617.05,661.17 617.63,675.57 617.3,680 C616.97,684.43 615.72,682 615,684 C614.28,686 613.83,690 613,692 C612.17,694 610.92,694.33 610,696 C609.08,697.67 608.65,700.25 607.5,702 C606.35,703.75 606.17,704.58 603.1,706.5 C600.03,708.42 595.78,710.92 589.1,713.5 C582.42,716.08 572.28,719.08 563,722 C553.72,724.92 542.12,728 533.4,731 C524.68,734 518.83,736.17 510.7,740 C502.57,743.83 493.32,749.37 484.6,754 C475.88,758.63 465.83,764.13 458.4,767.8 C450.97,771.47 444.35,774.4 440,776 C435.65,777.6 434.97,777.4 432.3,777.4 C429.63,777.4 426.9,776.93 424,776 C421.1,775.07 419.33,774.3 414.9,771.8 C410.47,769.3 403.22,763.97 397.4,761 C391.58,758.03 386.33,756.05 380,754 C373.67,751.95 365.85,750.92 359.4,748.7 C352.95,746.48 351.02,742.88 341.3,740.7 C331.58,738.52 314.5,736.62 301.1,735.6 C287.7,734.58 272.63,734.5 260.9,734.6 C249.17,734.7 238.75,735.22 230.7,736.2 C222.65,737.18 217.72,738.12 212.6,740.5 C207.48,742.88 205.13,747.67 200,750.5 C194.87,753.33 187.02,755.25 181.8,757.5 C176.58,759.75 172.78,761.15 168.7,764 C164.62,766.85 160.57,770.65 157.3,774.6 C154.03,778.55 151.42,783.6 149.1,787.7 C146.78,791.8 145.32,796.2 143.4,799.2 C141.48,802.2 139.38,802.43 137.6,805.7 C135.82,808.97 134.2,813.07 132.7,818.8 C131.2,824.53 129.82,832.45 128.6,840.1 C127.38,847.75 126.62,851.37 125.4,864.7 C124.18,878.03 121.98,910.87 121.3,920.1" fill="none" stroke="#a2142f" stroke-width="1.7" stroke-linejoin="round" clip-path="url(#clipc)"/>
<path d="M121.3,919.3 C121.48,911.08 122.05,886.55 122.4,870 C122.75,853.45 123.05,837.42 123.4,820 C123.75,802.58 124.07,779.67 124.5,765.5 C124.93,751.33 125.5,743.58 126,735 C126.5,726.42 126.8,720.43 127.5,714 C128.2,707.57 129.25,701.15 130.2,696.4 C131.15,691.65 131.87,688.52 133.2,685.5 C134.53,682.48 136.53,680.17 138.2,678.3 C139.87,676.43 141.68,675.03 143.2,674.3 C144.72,673.57 145.45,673.73 147.3,673.9 C149.15,674.07 151.12,674.23 154.3,675.3 C157.48,676.37 162.38,678.87 166.4,680.3 C170.42,681.73 174.72,683.47 178.4,683.9 C182.08,684.33 185.48,683.1 188.5,682.9 C191.52,682.7 194.5,682.52 196.5,682.7 C198.5,682.88 198.48,682.55 200.5,684 C202.52,685.45 205.92,689.17 208.6,691.4 C211.28,693.63 212.92,695.9 216.6,697.4 C220.28,698.9 223.32,699.5 230.7,700.4 C238.08,701.3 250.85,702.47 260.9,702.8 C270.95,703.13 277.6,702.97 291,702.4 C304.4,701.83 323.2,700.4 341.3,699.4 C359.4,698.4 387.33,697.47 399.6,696.4 C411.87,695.33 409.45,694.62 414.9,693 C420.35,691.38 426.5,689.35 432.3,686.7 C438.1,684.05 444.47,679.72 449.7,677.1 C454.93,674.48 457.88,672.83 463.7,671 C469.52,669.17 476.77,667.4 484.6,666.1 C492.43,664.8 502,663.83 510.7,663.2 C519.4,662.57 528.08,662.75 536.8,662.3 C545.52,661.85 554.28,661.43 563,660.5 C571.72,659.57 580.1,658.15 589.1,656.7 C598.1,655.25 612.35,652.62 617,651.8" fill="none" stroke="#0000ff" stroke-width="1.7" stroke-linejoin="round" clip-path="url(#clipc)"/>
<path d="M617,651.8 C617.05,656.17 617.63,672.97 617.3,678 C616.97,683.03 615.72,680 615,682 C614.28,684 613.83,688 613,690 C612.17,692 610.92,692.33 610,694 C609.08,695.67 608.65,698.17 607.5,700 C606.35,701.83 606.17,702.87 603.1,705 C600.03,707.13 595.78,710.05 589.1,712.8 C582.42,715.55 572.28,718.6 563,721.5 C553.72,724.4 542.12,727.28 533.4,730.2 C524.68,733.12 518.83,735.22 510.7,739 C502.57,742.78 493.32,748.27 484.6,752.9 C475.88,757.53 465.83,763.12 458.4,766.8 C450.97,770.48 444.35,773.4 440,775 C435.65,776.6 434.97,776.4 432.3,776.4 C429.63,776.4 426.9,775.87 424,775 C421.1,774.13 419.33,773.58 414.9,771.2 C410.47,768.82 403.22,763.6 397.4,760.7 C391.58,757.8 386.33,755.8 380,753.8 C373.67,751.8 365.85,750.88 359.4,748.7 C352.95,746.52 351.02,742.88 341.3,740.7 C331.58,738.52 314.5,736.62 301.1,735.6 C287.7,734.58 272.63,734.5 260.9,734.6 C249.17,734.7 238.75,735.27 230.7,736.2 C222.65,737.13 217.72,737.92 212.6,740.2 C207.48,742.48 205.13,747.18 200,749.9 C194.87,752.62 187.02,754.32 181.8,756.5 C176.58,758.68 172.78,760.15 168.7,763 C164.62,765.85 160.57,769.65 157.3,773.6 C154.03,777.55 151.42,782.6 149.1,786.7 C146.78,790.8 145.32,795.2 143.4,798.2 C141.48,801.2 139.38,801.43 137.6,804.7 C135.82,807.97 134.2,812.07 132.7,817.8 C131.2,823.53 129.82,831.45 128.6,839.1 C127.38,846.75 126.62,850.33 125.4,863.7 C124.18,877.07 121.98,910.03 121.3,919.3" fill="none" stroke="#0000ff" stroke-width="1.7" stroke-linejoin="round" clip-path="url(#clipc)"/>
<path d="M121.3,859.6 C121.47,849.67 121.92,819.93 122.3,800 C122.68,780.07 123.12,758.33 123.6,740 C124.08,721.67 124.67,703 125.2,690 C125.73,677 126.25,668.5 126.8,662 C127.35,655.5 127.93,653.27 128.5,651 C129.07,648.73 129.42,648.53 130.2,648.4 C130.98,648.27 132.03,649.3 133.2,650.2 C134.37,651.1 135.87,653.1 137.2,653.8 C138.53,654.5 139.97,653.93 141.2,654.4 C142.43,654.87 143.38,655.25 144.6,656.6 C145.82,657.95 147.35,660.43 148.5,662.5 C149.65,664.57 150.53,667.1 151.5,669 C152.47,670.9 152.88,672.4 154.3,673.9 C155.72,675.4 157.98,676.93 160,678 C162.02,679.07 163.67,679.58 166.4,680.3 C169.13,681.02 173.05,682.13 176.4,682.3 C179.75,682.47 183.73,681.8 186.5,681.3 C189.27,680.8 191,679.77 193,679.3 C195,678.83 197,678.52 198.5,678.5 C200,678.48 200.65,678.45 202,679.2 C203.35,679.95 205.17,681.47 206.6,683 C208.03,684.53 208.93,686.5 210.6,688.4 C212.27,690.3 214.25,692.9 216.6,694.4 C218.95,695.9 220.67,696.57 224.7,697.4 C228.73,698.23 233.77,698.73 240.8,699.4 C247.83,700.07 258.53,701.07 266.9,701.4 C275.27,701.73 281.95,701.73 291,701.4 C300.05,701.07 309.47,700.07 321.2,699.4 C332.93,698.73 348.7,698.07 361.4,697.4 C374.1,696.73 388.48,696.32 397.4,695.4 C406.32,694.48 409.08,693.65 414.9,691.9 C420.72,690.15 426.5,687.52 432.3,684.9 C438.1,682.28 444.47,678.17 449.7,676.2 C454.93,674.23 459.05,673.45 463.7,673.1 C468.35,672.75 472.67,673.78 477.6,674.1 C482.53,674.42 487.78,675.08 493.3,675 C498.82,674.92 503.45,674.03 510.7,673.6 C517.95,673.17 526.63,672.83 536.8,672.4 C546.97,671.97 561.53,671.75 571.7,671 C581.87,670.25 590.25,668.83 597.8,667.9 C605.35,666.97 613.8,665.82 617,665.4" fill="none" stroke="#000000" stroke-width="1.7" stroke-linejoin="round" clip-path="url(#clipc)"/>
<path d="M617,665.4 C617.05,667.2 617.55,674.02 617.3,676.2 C617.05,678.38 616.13,677.7 615.5,678.5 C614.87,679.3 614.08,679.58 613.5,681 C612.92,682.42 612.67,685.67 612,687 C611.33,688.33 610.25,687.83 609.5,689 C608.75,690.17 608.42,692.75 607.5,694 C606.58,695.25 605.62,695.53 604,696.5 C602.38,697.47 601.73,698.23 597.8,699.8 C593.87,701.37 587.65,703.73 580.4,705.9 C573.15,708.07 562.43,710.48 554.3,712.8 C546.17,715.12 538.87,717.47 531.6,719.8 C524.33,722.13 517.08,724.18 510.7,726.8 C504.32,729.42 499.1,732.02 493.3,735.5 C487.5,738.98 481.72,743.5 475.9,747.7 C470.08,751.9 463.05,757.65 458.4,760.7 C453.75,763.75 450.9,764.83 448,766 C445.1,767.17 443.67,767.62 441,767.7 C438.33,767.78 434.9,767.22 432,766.5 C429.1,765.78 427.92,765.95 423.6,763.4 C419.28,760.85 411.7,754.43 406.1,751.2 C400.5,747.97 394.35,745.7 390,744 C385.65,742.3 384.77,742.3 380,741 C375.23,739.7 366.17,737.6 361.4,736.2 C356.63,734.8 356.42,734.2 351.4,732.6 C346.38,731 339.68,727.93 331.3,726.6 C322.92,725.27 311.17,725 301.1,724.6 C291.03,724.2 279.28,724.03 270.9,724.2 C262.52,724.37 258.5,724.6 250.8,725.6 C243.1,726.6 231.4,728.37 224.7,730.2 C218,732.03 214.63,734.07 210.6,736.6 C206.57,739.13 203.38,743.53 200.5,745.4 C197.62,747.27 196.68,747.6 193.3,747.8 C189.92,748 184.3,746.65 180.2,746.6 C176.1,746.55 172.52,746.53 168.7,747.5 C164.88,748.47 160.3,749.95 157.3,752.4 C154.3,754.85 152.75,757.83 150.7,762.2 C148.65,766.57 146.77,773.02 145,778.6 C143.23,784.18 141.6,792.3 140.1,795.7 C138.6,799.1 137.5,797.77 136,799 C134.5,800.23 132.6,800.5 131.1,803.1 C129.6,805.7 128.27,809.15 127,814.6 C125.73,820.05 124.37,828.3 123.5,835.8 C122.63,843.3 122.08,855.63 121.8,859.6" fill="none" stroke="#000000" stroke-width="1.7" stroke-linejoin="round" clip-path="url(#clipc)"/>
<rect x="398.8" y="650.4" width="132.5" height="49" fill="none" stroke="#ed7d31" stroke-width="3.2" stroke-dasharray="3.2 4.4"/>
<line x1="146.6" y1="634" x2="146.6" y2="704" stroke="#ed7d31" stroke-width="3.6" stroke-dasharray="14.5 12"/>
<path d="M140.7,704.2 L152.5,704.2 L146.6,716.5 Z" fill="#ed7d31"/>
<rect x="275.7" y="811.2" width="324.6" height="187.5" fill="none" stroke="#c55a11" stroke-width="2.4" stroke-dasharray="2.4 3.0"/>
<text x="326.4" y="876.1" font-size="29.6" text-anchor="start" font-family='"Liberation Serif", serif' fill="#ed7d31" stroke="#ed7d31" stroke-width="0.3" >Shifted oxide region</text>
<path d="M276.9,980.6 C286.15,980.2 315.1,979.8 332.4,978.2 C349.7,976.6 367.83,973.82 380.7,971 C393.57,968.18 401.57,964.72 409.6,961.3 C417.63,957.88 422.47,953.92 428.9,950.5 C435.33,947.08 441.37,943.42 448.2,940.8 C455.03,938.18 463.07,936 469.9,934.8 C476.73,933.6 481.95,933.68 489.2,933.6 C496.45,933.52 505.35,933.9 513.4,934.3 C521.45,934.7 527.45,936 537.5,936 C547.55,936 563.65,934.9 573.7,934.3 C583.75,933.7 593.78,932.72 597.8,932.4" fill="none" stroke="#000000" stroke-width="2.8" stroke-linejoin="round" />
<path d="M276.9,983 C286.15,982.53 315.1,981.93 332.4,980.2 C349.7,978.47 367.83,975.38 380.7,972.6 C393.57,969.82 400.77,967.1 409.6,963.5 C418.43,959.9 424.45,956.18 433.7,951 C442.95,945.82 453.83,936.52 465.1,932.4 C476.37,928.28 489.23,928 501.3,926.3 C513.37,924.6 521.42,923.28 537.5,922.2 C553.58,921.12 587.75,920.2 597.8,919.8" fill="none" stroke="#a2142f" stroke-width="2.8" stroke-linejoin="round" />
<path d="M276.9,978.7 C286.15,978.67 315.1,979.38 332.4,978.5 C349.7,977.62 366.62,975.65 380.7,973.4 C394.78,971.15 405.65,968.82 416.9,965 C428.15,961.18 439.37,954.93 448.2,950.5 C457.03,946.07 463.07,941.62 469.9,938.4 C476.73,935.18 481.95,933.62 489.2,931.2 C496.45,928.78 503.33,926.32 513.4,923.9 C523.47,921.48 535.53,919.23 549.6,916.7 C563.67,914.17 589.77,910.03 597.8,908.7" fill="none" stroke="#1a8a1a" stroke-width="2.8" stroke-linejoin="round" />
<path d="M276.9,981.8 C286.15,981.4 315.1,981 332.4,979.4 C349.7,977.8 367.83,974.82 380.7,972.2 C393.57,969.58 400.77,967.12 409.6,963.7 C418.43,960.28 425.25,956.2 433.7,951.7 C442.15,947.2 451.05,940.52 460.3,936.7 C469.55,932.88 478.35,931.33 489.2,928.8 C500.05,926.27 513.33,923.52 525.4,921.5 C537.47,919.48 549.53,917.98 561.6,916.7 C573.67,915.42 591.77,914.28 597.8,913.8" fill="none" stroke="#0000ff" stroke-width="2.8" stroke-linejoin="round" />
<line x1="414.4" y1="905.3" x2="518.34" y2="968.52" stroke="#ed7d31" stroke-width="3.6" stroke-dasharray="14 9"/>
<path d="M530.3,975.8 L514.7,974.5 L521.98,962.54 Z" fill="#ed7d31"/>
<text x="224.8" y="1100.4" font-size="28.6" text-anchor="start" font-family='"Liberation Sans", sans-serif' fill="#222" stroke="#222" stroke-width="0.5" >Potential (V vs. RHE)</text>
<text transform="translate(37.5,987.5) rotate(-90)" stroke="#111" stroke-width="0.5" font-size="30.4" text-anchor="start" font-family='"Liberation Sans", sans-serif' fill="#222">Current density (mA cm<tspan dy="-14" font-size="22">-2</tspan><tspan dy="14">)</tspan></text>
<text x="0.5" y="589.5" font-size="52" text-anchor="start" font-family='"Liberation Serif", serif' fill="#000" font-weight="bold">c</text>
<line x1="907.7" y1="992.29" x2="1448.9" y2="992.29" stroke="#d2d2d2" stroke-width="1" stroke-dasharray="1.5 2.7"/>
<line x1="907.7" y1="937.86" x2="1448.9" y2="937.86" stroke="#d2d2d2" stroke-width="1" stroke-dasharray="1.5 2.7"/>
<line x1="907.7" y1="883.44" x2="1448.9" y2="883.44" stroke="#d2d2d2" stroke-width="1" stroke-dasharray="1.5 2.7"/>
<line x1="907.7" y1="829.01" x2="1448.9" y2="829.01" stroke="#d2d2d2" stroke-width="1" stroke-dasharray="1.5 2.7"/>
<line x1="907.7" y1="774.59" x2="1448.9" y2="774.59" stroke="#d2d2d2" stroke-width="1" stroke-dasharray="1.5 2.7"/>
<line x1="907.7" y1="720.16" x2="1448.9" y2="720.16" stroke="#d2d2d2" stroke-width="1" stroke-dasharray="1.5 2.7"/>
<line x1="907.7" y1="665.74" x2="1448.9" y2="665.74" stroke="#d2d2d2" stroke-width="1" stroke-dasharray="1.5 2.7"/>
<line x1="907.7" y1="611.31" x2="1448.9" y2="611.31" stroke="#d2d2d2" stroke-width="1" stroke-dasharray="1.5 2.7"/>
<line x1="989.16" y1="584.1" x2="989.16" y2="1019.5" stroke="#d2d2d2" stroke-width="1" stroke-dasharray="1.5 2.7"/>
<line x1="1036.81" y1="584.1" x2="1036.81" y2="1019.5" stroke="#d2d2d2" stroke-width="1" stroke-dasharray="1.5 2.7"/>
<line x1="1070.62" y1="584.1" x2="1070.62" y2="1019.5" stroke="#d2d2d2" stroke-width="1" stroke-dasharray="1.5 2.7"/>
<line x1="1096.84" y1="584.1" x2="1096.84" y2="1019.5" stroke="#d2d2d2" stroke-width="1" stroke-dasharray="1.5 2.7"/>
<line x1="1118.27" y1="584.1" x2="1118.27" y2="1019.5" stroke="#d2d2d2" stroke-width="1" stroke-dasharray="1.5 2.7"/>
<line x1="1136.38" y1="584.1" x2="1136.38" y2="1019.5" stroke="#d2d2d2" stroke-width="1" stroke-dasharray="1.5 2.7"/>
<line x1="1152.08" y1="584.1" x2="1152.08" y2="1019.5" stroke="#d2d2d2" stroke-width="1" stroke-dasharray="1.5 2.7"/>
<line x1="1165.92" y1="584.1" x2="1165.92" y2="1019.5" stroke="#d2d2d2" stroke-width="1" stroke-dasharray="1.5 2.7"/>
<line x1="1259.76" y1="584.1" x2="1259.76" y2="1019.5" stroke="#d2d2d2" stroke-width="1" stroke-dasharray="1.5 2.7"/>
<line x1="1307.41" y1="584.1" x2="1307.41" y2="1019.5" stroke="#d2d2d2" stroke-width="1" stroke-dasharray="1.5 2.7"/>
<line x1="1341.22" y1="584.1" x2="1341.22" y2="1019.5" stroke="#d2d2d2" stroke-width="1" stroke-dasharray="1.5 2.7"/>
<line x1="1367.44" y1="584.1" x2="1367.44" y2="1019.5" stroke="#d2d2d2" stroke-width="1" stroke-dasharray="1.5 2.7"/>
<line x1="1388.87" y1="584.1" x2="1388.87" y2="1019.5" stroke="#d2d2d2" stroke-width="1" stroke-dasharray="1.5 2.7"/>
<line x1="1406.98" y1="584.1" x2="1406.98" y2="1019.5" stroke="#d2d2d2" stroke-width="1" stroke-dasharray="1.5 2.7"/>
<line x1="1422.68" y1="584.1" x2="1422.68" y2="1019.5" stroke="#d2d2d2" stroke-width="1" stroke-dasharray="1.5 2.7"/>
<line x1="1436.52" y1="584.1" x2="1436.52" y2="1019.5" stroke="#d2d2d2" stroke-width="1" stroke-dasharray="1.5 2.7"/>
<line x1="907.7" y1="965.07" x2="1448.9" y2="965.07" stroke="#bdbdbd" stroke-width="1.4" />
<line x1="907.7" y1="910.65" x2="1448.9" y2="910.65" stroke="#bdbdbd" stroke-width="1.4" />
<line x1="907.7" y1="856.22" x2="1448.9" y2="856.22" stroke="#bdbdbd" stroke-width="1.4" />
<line x1="907.7" y1="801.8" x2="1448.9" y2="801.8" stroke="#bdbdbd" stroke-width="1.4" />
<line x1="907.7" y1="747.38" x2="1448.9" y2="747.38" stroke="#bdbdbd" stroke-width="1.4" />
<line x1="907.7" y1="692.95" x2="1448.9" y2="692.95" stroke="#bdbdbd" stroke-width="1.4" />
<line x1="907.7" y1="638.52" x2="1448.9" y2="638.52" stroke="#bdbdbd" stroke-width="1.4" />
<line x1="1178.3" y1="584.1" x2="1178.3" y2="1019.5" stroke="#bdbdbd" stroke-width="1.4" />
<line x1="898.7" y1="1019.5" x2="907.7" y2="1019.5" stroke="#000000" stroke-width="1.8" />
<text x="891.6" y="1028.7" font-size="26" text-anchor="end" font-family='"Liberation Sans", sans-serif' fill="#000" stroke="#000" stroke-width="0.5" >0.74</text>
<line x1="902.7" y1="992.29" x2="907.7" y2="992.29" stroke="#000000" stroke-width="1.8" />
<line x1="898.7" y1="965.07" x2="907.7" y2="965.07" stroke="#000000" stroke-width="1.8" />
<text x="891.6" y="974.27" font-size="26" text-anchor="end" font-family='"Liberation Sans", sans-serif' fill="#000" stroke="#000" stroke-width="0.5" >0.76</text>
<line x1="902.7" y1="937.86" x2="907.7" y2="937.86" stroke="#000000" stroke-width="1.8" />
<line x1="898.7" y1="910.65" x2="907.7" y2="910.65" stroke="#000000" stroke-width="1.8" />
<text x="891.6" y="919.85" font-size="26" text-anchor="end" font-family='"Liberation Sans", sans-serif' fill="#000" stroke="#000" stroke-width="0.5" >0.78</text>
<line x1="902.7" y1="883.44" x2="907.7" y2="883.44" stroke="#000000" stroke-width="1.8" />
<line x1="898.7" y1="856.22" x2="907.7" y2="856.22" stroke="#000000" stroke-width="1.8" />
<text x="891.6" y="865.42" font-size="26" text-anchor="end" font-family='"Liberation Sans", sans-serif' fill="#000" stroke="#000" stroke-width="0.5" >0.80</text>
<line x1="902.7" y1="829.01" x2="907.7" y2="829.01" stroke="#000000" stroke-width="1.8" />
<line x1="898.7" y1="801.8" x2="907.7" y2="801.8" stroke="#000000" stroke-width="1.8" />
<text x="891.6" y="811" font-size="26" text-anchor="end" font-family='"Liberation Sans", sans-serif' fill="#000" stroke="#000" stroke-width="0.5" >0.82</text>
<line x1="902.7" y1="774.59" x2="907.7" y2="774.59" stroke="#000000" stroke-width="1.8" />
<line x1="898.7" y1="747.38" x2="907.7" y2="747.38" stroke="#000000" stroke-width="1.8" />
<text x="891.6" y="756.58" font-size="26" text-anchor="end" font-family='"Liberation Sans", sans-serif' fill="#000" stroke="#000" stroke-width="0.5" >0.84</text>
<line x1="902.7" y1="720.16" x2="907.7" y2="720.16" stroke="#000000" stroke-width="1.8" />
<line x1="898.7" y1="692.95" x2="907.7" y2="692.95" stroke="#000000" stroke-width="1.8" />
<text x="891.6" y="702.15" font-size="26" text-anchor="end" font-family='"Liberation Sans", sans-serif' fill="#000" stroke="#000" stroke-width="0.5" >0.86</text>
<line x1="902.7" y1="665.74" x2="907.7" y2="665.74" stroke="#000000" stroke-width="1.8" />
<line x1="898.7" y1="638.52" x2="907.7" y2="638.52" stroke="#000000" stroke-width="1.8" />
<text x="891.6" y="647.73" font-size="26" text-anchor="end" font-family='"Liberation Sans", sans-serif' fill="#000" stroke="#000" stroke-width="0.5" >0.88</text>
<line x1="902.7" y1="611.31" x2="907.7" y2="611.31" stroke="#000000" stroke-width="1.8" />
<line x1="898.7" y1="584.1" x2="907.7" y2="584.1" stroke="#000000" stroke-width="1.8" />
<text x="891.6" y="593.3" font-size="26" text-anchor="end" font-family='"Liberation Sans", sans-serif' fill="#000" stroke="#000" stroke-width="0.5" >0.90</text>
<line x1="907.7" y1="1019.5" x2="907.7" y2="1028.5" stroke="#000000" stroke-width="1.8" />
<line x1="989.16" y1="1019.5" x2="989.16" y2="1024.5" stroke="#000000" stroke-width="1.8" />
<line x1="1036.81" y1="1019.5" x2="1036.81" y2="1024.5" stroke="#000000" stroke-width="1.8" />
<line x1="1070.62" y1="1019.5" x2="1070.62" y2="1024.5" stroke="#000000" stroke-width="1.8" />
<line x1="1096.84" y1="1019.5" x2="1096.84" y2="1024.5" stroke="#000000" stroke-width="1.8" />
<line x1="1118.27" y1="1019.5" x2="1118.27" y2="1024.5" stroke="#000000" stroke-width="1.8" />
<line x1="1136.38" y1="1019.5" x2="1136.38" y2="1024.5" stroke="#000000" stroke-width="1.8" />
<line x1="1152.08" y1="1019.5" x2="1152.08" y2="1024.5" stroke="#000000" stroke-width="1.8" />
<line x1="1165.92" y1="1019.5" x2="1165.92" y2="1024.5" stroke="#000000" stroke-width="1.8" />
<line x1="1178.3" y1="1019.5" x2="1178.3" y2="1028.5" stroke="#000000" stroke-width="1.8" />
<line x1="1259.76" y1="1019.5" x2="1259.76" y2="1024.5" stroke="#000000" stroke-width="1.8" />
<line x1="1307.41" y1="1019.5" x2="1307.41" y2="1024.5" stroke="#000000" stroke-width="1.8" />
<line x1="1341.22" y1="1019.5" x2="1341.22" y2="1024.5" stroke="#000000" stroke-width="1.8" />
<line x1="1367.44" y1="1019.5" x2="1367.44" y2="1024.5" stroke="#000000" stroke-width="1.8" />
<line x1="1388.87" y1="1019.5" x2="1388.87" y2="1024.5" stroke="#000000" stroke-width="1.8" />
<line x1="1406.98" y1="1019.5" x2="1406.98" y2="1024.5" stroke="#000000" stroke-width="1.8" />
<line x1="1422.68" y1="1019.5" x2="1422.68" y2="1024.5" stroke="#000000" stroke-width="1.8" />
<line x1="1436.52" y1="1019.5" x2="1436.52" y2="1024.5" stroke="#000000" stroke-width="1.8" />
<line x1="1448.9" y1="1019.5" x2="1448.9" y2="1028.5" stroke="#000000" stroke-width="1.8" />
<text x="907.7" y="1055" font-size="26" text-anchor="middle" font-family='"Liberation Sans", sans-serif' fill="#000" stroke="#000" stroke-width="0.5" >10</text>
<text x="1178.3" y="1055" font-size="26" text-anchor="middle" font-family='"Liberation Sans", sans-serif' fill="#000" stroke="#000" stroke-width="0.5" >100</text>
<text x="1448.9" y="1055" font-size="26" text-anchor="middle" font-family='"Liberation Sans", sans-serif' fill="#000" stroke="#000" stroke-width="0.5" >1000</text>
<rect x="907.7" y="584.1" width="541.2" height="435.4" fill="none" stroke="#000" stroke-width="2"/>
<line x1="1038.5" y1="646.5" x2="1376.7" y2="900.1" stroke="#a0302a" stroke-width="1.8" />
<line x1="1038.5" y1="645.5" x2="1317.5" y2="866" stroke="#2e9a2e" stroke-width="1.8" />
<line x1="1101.2" y1="646.5" x2="1416.2" y2="894.1" stroke="#222" stroke-width="1.8" />
<line x1="1144.2" y1="640.9" x2="1423.9" y2="866.9" stroke="#3a6cff" stroke-width="1.8" />
<path d="M1038.5,639.25 L1045,646.5 L1038.5,653.75 L1032,646.5 Z" fill="#8b0a0a"/>
<path d="M1124.2,702.05 L1130.7,709.3 L1124.2,716.55 L1117.7,709.3 Z" fill="#8b0a0a"/>
<path d="M1197.7,760.75 L1204.2,768 L1197.7,775.25 L1191.2,768 Z" fill="#8b0a0a"/>
<path d="M1261.4,814.95 L1267.9,822.2 L1261.4,829.45 L1254.9,822.2 Z" fill="#8b0a0a"/>
<path d="M1320.2,862.95 L1326.7,870.2 L1320.2,877.45 L1313.7,870.2 Z" fill="#8b0a0a"/>
<path d="M1376.7,892.85 L1383.2,900.1 L1376.7,907.35 L1370.2,900.1 Z" fill="#8b0a0a"/>
<path d="M1124.2,702.15 L1129.95,713.15 L1118.45,713.15 Z" fill="#1e8a1e" stroke="#1e8a1e" stroke-width="1" stroke-linejoin="round"/>
<path d="M1197.2,760.15 L1202.95,771.15 L1191.45,771.15 Z" fill="#1e8a1e" stroke="#1e8a1e" stroke-width="1" stroke-linejoin="round"/>
<path d="M1260.5,813.75 L1266.25,824.75 L1254.75,824.75 Z" fill="#1e8a1e" stroke="#1e8a1e" stroke-width="1" stroke-linejoin="round"/>
<path d="M1317.5,859.95 L1323.25,870.95 L1311.75,870.95 Z" fill="#1e8a1e" stroke="#1e8a1e" stroke-width="1" stroke-linejoin="round"/>
<path d="M1040,640.73 L1045.5,651.23 L1034.5,651.23 Z" fill="#1e8a1e" stroke="#1e8a1e" stroke-width="1" stroke-linejoin="round"/>
<circle cx="1101.2" cy="646.5" r="5.7" fill="#000000"/>
<circle cx="1190.2" cy="706.5" r="5.7" fill="#000000"/>
<circle cx="1258.2" cy="763.4" r="5.7" fill="#000000"/>
<circle cx="1314.8" cy="815.4" r="5.7" fill="#000000"/>
<circle cx="1365.1" cy="864.2" r="5.7" fill="#000000"/>
<circle cx="1416.2" cy="894.1" r="5.7" fill="#000000"/>
<rect x="1139.5" y="636.2" width="9.4" height="9.4" rx="0.5" fill="#1a4dff"/>
<rect x="1218" y="693" width="9.4" height="9.4" rx="0.5" fill="#1a4dff"/>
<rect x="1282.1" y="743.9" width="9.4" height="9.4" rx="0.5" fill="#1a4dff"/>
<rect x="1335.1" y="788.6" width="9.4" height="9.4" rx="0.5" fill="#1a4dff"/>
<rect x="1380.3" y="829.3" width="9.4" height="9.4" rx="0.5" fill="#1a4dff"/>
<rect x="1419.2" y="862.2" width="9.4" height="9.4" rx="0.5" fill="#1a4dff"/>
<text x="940.2" y="936.9" font-size="25.5" text-anchor="start" font-family='"Liberation Serif", serif' fill="#000" stroke="#000" stroke-width="0.3" >81 mV dec<tspan font-size="16" dy="-8">-1</tspan></text>
<text x="940.2" y="961" font-size="25.5" text-anchor="start" font-family='"Liberation Serif", serif' fill="#c00000" stroke="#c00000" stroke-width="0.3" >77 mV dec<tspan font-size="16" dy="-8">-1</tspan></text>
<text x="940.2" y="985.1" font-size="25.5" text-anchor="start" font-family='"Liberation Serif", serif' fill="#0000cc" stroke="#0000cc" stroke-width="0.3" >81 mV dec<tspan font-size="16" dy="-8">-1</tspan></text>
<text x="940.2" y="1009.2" font-size="25.5" text-anchor="start" font-family='"Liberation Serif", serif' fill="#008000" stroke="#008000" stroke-width="0.3" >80 mV dec<tspan font-size="16" dy="-8">-1</tspan></text>
<text x="1004.8" y="1093.1" font-size="30.5" text-anchor="start" font-family='"Liberation Sans", sans-serif' fill="#000" stroke="#000" stroke-width="0.5" >Current density (mA cm<tspan dy="-14" font-size="22">-2</tspan><tspan dy="14">)</tspan></text>
<text transform="translate(811.6,992.5) rotate(-90)" stroke="#111" stroke-width="0.5" font-size="32.4" text-anchor="start" font-family='"Liberation Sans", sans-serif' fill="#000">Cell voltage<tspan dy="11.5" font-size="20">IR-corrected</tspan><tspan dy="-11.5"> (V)</tspan></text>
<text x="1483.5" y="1056.5" font-size="20.5" text-anchor="start" font-family='"Liberation Sans", sans-serif' fill="#000" stroke="#000" stroke-width="0.5" >)</text>
<text x="792.6" y="600.8" font-size="53" text-anchor="start" font-family='"Liberation Serif", serif' fill="#000" stroke="#000" stroke-width="0.3" >d</text>
<line x1="172.6" y1="1625.3" x2="172.6" y2="1619.3" stroke="#262626" stroke-width="1.3" />
<line x1="172.6" y1="1156.8" x2="172.6" y2="1162.8" stroke="#262626" stroke-width="1.3" />
<text x="172.6" y="1660.8" font-size="27.5" text-anchor="middle" font-family='"Liberation Sans", sans-serif' fill="#222" stroke="#222" stroke-width="0.5" >200</text>
<line x1="317" y1="1625.3" x2="317" y2="1619.3" stroke="#262626" stroke-width="1.3" />
<line x1="317" y1="1156.8" x2="317" y2="1162.8" stroke="#262626" stroke-width="1.3" />
<text x="317" y="1660.8" font-size="27.5" text-anchor="middle" font-family='"Liberation Sans", sans-serif' fill="#222" stroke="#222" stroke-width="0.5" >250</text>
<line x1="461.4" y1="1625.3" x2="461.4" y2="1619.3" stroke="#262626" stroke-width="1.3" />
<line x1="461.4" y1="1156.8" x2="461.4" y2="1162.8" stroke="#262626" stroke-width="1.3" />
<text x="461.4" y="1660.8" font-size="27.5" text-anchor="middle" font-family='"Liberation Sans", sans-serif' fill="#222" stroke="#222" stroke-width="0.5" >300</text>
<line x1="605.8" y1="1625.3" x2="605.8" y2="1619.3" stroke="#262626" stroke-width="1.3" />
<line x1="605.8" y1="1156.8" x2="605.8" y2="1162.8" stroke="#262626" stroke-width="1.3" />
<text x="605.8" y="1660.8" font-size="27.5" text-anchor="middle" font-family='"Liberation Sans", sans-serif' fill="#222" stroke="#222" stroke-width="0.5" >350</text>
<line x1="114.8" y1="1625.1" x2="120.8" y2="1625.1" stroke="#262626" stroke-width="1.3" />
<line x1="635.4" y1="1625.1" x2="629.4" y2="1625.1" stroke="#262626" stroke-width="1.3" />
<text x="103.8" y="1633.5" font-size="27.5" text-anchor="end" font-family='"Liberation Sans", sans-serif' fill="#222" stroke="#222" stroke-width="0.5" >-5</text>
<line x1="114.8" y1="1573.1" x2="120.8" y2="1573.1" stroke="#262626" stroke-width="1.3" />
<line x1="635.4" y1="1573.1" x2="629.4" y2="1573.1" stroke="#262626" stroke-width="1.3" />
<text x="103.8" y="1581.5" font-size="27.5" text-anchor="end" font-family='"Liberation Sans", sans-serif' fill="#222" stroke="#222" stroke-width="0.5" >0</text>
<line x1="114.8" y1="1469.1" x2="120.8" y2="1469.1" stroke="#262626" stroke-width="1.3" />
<line x1="635.4" y1="1469.1" x2="629.4" y2="1469.1" stroke="#262626" stroke-width="1.3" />
<text x="103.8" y="1477.5" font-size="27.5" text-anchor="end" font-family='"Liberation Sans", sans-serif' fill="#222" stroke="#222" stroke-width="0.5" >10</text>
<line x1="114.8" y1="1365.1" x2="120.8" y2="1365.1" stroke="#262626" stroke-width="1.3" />
<line x1="635.4" y1="1365.1" x2="629.4" y2="1365.1" stroke="#262626" stroke-width="1.3" />
<text x="103.8" y="1373.5" font-size="27.5" text-anchor="end" font-family='"Liberation Sans", sans-serif' fill="#222" stroke="#222" stroke-width="0.5" >20</text>
<line x1="114.8" y1="1261.1" x2="120.8" y2="1261.1" stroke="#262626" stroke-width="1.3" />
<line x1="635.4" y1="1261.1" x2="629.4" y2="1261.1" stroke="#262626" stroke-width="1.3" />
<text x="103.8" y="1269.5" font-size="27.5" text-anchor="end" font-family='"Liberation Sans", sans-serif' fill="#222" stroke="#222" stroke-width="0.5" >30</text>
<line x1="114.8" y1="1157.1" x2="120.8" y2="1157.1" stroke="#262626" stroke-width="1.3" />
<line x1="635.4" y1="1157.1" x2="629.4" y2="1157.1" stroke="#262626" stroke-width="1.3" />
<text x="103.8" y="1165.5" font-size="27.5" text-anchor="end" font-family='"Liberation Sans", sans-serif' fill="#222" stroke="#222" stroke-width="0.5" >40</text>
<rect x="114.8" y="1156.8" width="520.6" height="468.5" fill="none" stroke="#262626" stroke-width="1.6"/>
<clipPath id="clipe"><rect x="114.8" y="1156.8" width="520.6" height="468.5"/></clipPath>
<path d="M172.6,1578.6 L177.2,1581.22 L181.8,1578.64 L186.4,1581.26 L191,1578.68 L195.6,1581.3 L200.2,1578.73 L204.8,1581.35 L209.4,1578.77 L214,1581.39 L218.6,1578.81 L223.2,1581.43 L227.8,1578.85 L232.4,1581.47 L237,1578.89 L241.6,1581.83 L246.2,1579.78 L250.8,1583.22 L255.4,1581.98 L260,1585.04 L264.6,1584.03 L269.2,1587.01 L273.8,1585.02 L278.4,1585.7 L288,1579.65 L288,1579.65 C289.17,1579.15 292.67,1577.57 295,1576.69 C297.33,1575.82 299.5,1575.08 302,1574.39 C304.5,1573.7 307.3,1573.03 310,1572.57 C312.7,1572.11 314.87,1571.8 318.2,1571.6 C321.53,1571.4 316.37,1571.4 330,1571.38 C343.63,1571.37 353.93,1571.41 400,1571.5 C446.07,1571.59 572,1571.83 606.4,1571.9" fill="none" stroke="#000000" stroke-width="2" stroke-linejoin="round" clip-path="url(#clipe)"/>
<path d="M172.6,1620.3 C174.67,1620.35 181.27,1620.47 185,1620.6 C188.73,1620.73 191.67,1620.7 195,1621.1 C198.33,1621.5 202.08,1622.47 205,1623 C207.92,1623.53 209.93,1624.35 212.5,1624.3 C215.07,1624.25 218.15,1623.42 220.4,1622.7 C222.65,1621.98 224.13,1621.33 226,1620 C227.87,1618.67 229.85,1616.7 231.6,1614.7 C233.35,1612.7 234.92,1610.63 236.5,1608 C238.08,1605.37 239.27,1604.4 241.1,1598.9 C242.93,1593.4 245.65,1582.95 247.5,1575 C249.35,1567.05 250.62,1559.93 252.2,1551.2 C253.78,1542.47 255.38,1530.6 257,1522.6 C258.62,1514.6 260.1,1512.57 261.9,1503.2 C263.7,1493.83 266.08,1478.68 267.8,1466.4 C269.52,1454.12 270.7,1446.43 272.2,1429.5 C273.7,1412.57 275.53,1383.63 276.8,1364.8 C278.07,1345.97 278.8,1332.13 279.8,1316.5 C280.8,1300.87 281.83,1282.08 282.8,1271 C283.77,1259.92 284.7,1255.17 285.6,1250 C286.5,1244.83 287.45,1242.17 288.2,1240 C288.95,1237.83 289.47,1237 290.1,1237 C290.73,1237 291.3,1237.17 292,1240 C292.7,1242.83 293.6,1247.33 294.3,1254 C295,1260.67 295.4,1269.58 296.2,1280 C297,1290.42 297.82,1302.37 299.1,1316.5 C300.38,1330.63 302.18,1348.72 303.9,1364.8 C305.62,1380.88 308.03,1399.77 309.4,1413 C310.77,1426.23 310.67,1432.85 312.1,1444.2 C313.53,1455.55 315.8,1470.03 318,1481.1 C320.2,1492.17 322.35,1502.48 325.3,1510.6 C328.25,1518.72 331.52,1523.9 335.7,1529.8 C339.88,1535.7 344.75,1541.58 350.4,1546 C356.05,1550.42 362.72,1553.72 369.6,1556.3 C376.48,1558.88 383.3,1560.15 391.7,1561.5 C400.1,1562.85 401.95,1563.65 420,1564.4 C438.05,1565.15 468.93,1565.58 500,1566 C531.07,1566.42 588.67,1566.75 606.4,1566.9" fill="none" stroke="#a2142f" stroke-width="1.9" stroke-linejoin="round" clip-path="url(#clipe)" stroke-dasharray="5.5 1.8 1.8 1.8"/>
<path d="M172.6,1571.6 C184.3,1571.63 230.12,1572.02 242.8,1571.8 C255.48,1571.58 246.5,1571.17 248.7,1570.3 C250.9,1569.43 254.03,1568.2 256,1566.6 C257.97,1565 258.77,1563.9 260.5,1560.7 C262.23,1557.5 264.2,1553.78 266.4,1547.4 C268.6,1541.02 271.25,1532.22 273.7,1522.4 C276.15,1512.58 278.63,1500.55 281.1,1488.5 C283.57,1476.45 286.43,1462.6 288.5,1450.1 C290.57,1437.6 291.53,1427.72 293.5,1413.5 C295.47,1399.28 297.95,1380.97 300.3,1364.8 C302.65,1348.63 305.58,1328.47 307.6,1316.5 C309.62,1304.53 310.92,1298.92 312.4,1293 C313.88,1287.08 315.15,1284.25 316.5,1281 C317.85,1277.75 318.93,1275.42 320.5,1273.5 C322.07,1271.58 324.15,1269.67 325.9,1269.5 C327.65,1269.33 329.48,1270.58 331,1272.5 C332.52,1274.42 333.87,1277.58 335,1281 C336.13,1284.42 336.75,1287.08 337.8,1293 C338.85,1298.92 339.4,1304.53 341.3,1316.5 C343.2,1328.47 346.68,1348.72 349.2,1364.8 C351.72,1380.88 354.67,1400.98 356.4,1413 C358.13,1425.02 358.38,1429.23 359.6,1436.9 C360.82,1444.57 362.03,1450.9 363.7,1459 C365.37,1467.1 367.4,1476.17 369.6,1485.5 C371.8,1494.83 375,1508.37 376.9,1515 C378.8,1521.63 379.52,1522.3 381,1525.3 C382.48,1528.3 383.28,1529.65 385.8,1533 C388.32,1536.35 392.17,1542.02 396.1,1545.4 C400.03,1548.78 405.42,1551.4 409.4,1553.3 C413.38,1555.2 413.23,1555.35 420,1556.8 C426.77,1558.25 436.67,1560.55 450,1562 C463.33,1563.45 473.93,1564.42 500,1565.5 C526.07,1566.58 588.67,1568 606.4,1568.5" fill="none" stroke="#0000ff" stroke-width="2.5" stroke-linejoin="round" clip-path="url(#clipe)" stroke-dasharray="4 1 1.6 1"/>
<line x1="259.7" y1="1551.9" x2="259.7" y2="1599" stroke="#0000ff" stroke-width="2.2" stroke-dasharray="2 1.6"/>
<line x1="379.2" y1="1504.7" x2="379.2" y2="1528.3" stroke="#0000ff" stroke-width="2.2" stroke-dasharray="2 1.6"/>
<path d="M172.6,1571 C182.08,1571 218.93,1571.25 229.5,1571 C240.07,1570.75 234.03,1570.23 236,1569.5 C237.97,1568.77 239.18,1568.55 241.3,1566.6 C243.42,1564.65 246.25,1562.22 248.7,1557.8 C251.15,1553.38 253.8,1547.23 256,1540.1 C258.2,1532.97 259.93,1524.83 261.9,1515 C263.87,1505.17 266.08,1491.67 267.8,1481.1 C269.52,1470.53 270.63,1462.78 272.2,1451.6 C273.77,1440.42 275.13,1428.47 277.2,1414 C279.27,1399.53 282.35,1381.05 284.6,1364.8 C286.85,1348.55 288.8,1329.3 290.7,1316.5 C292.6,1303.7 294.4,1296.03 296,1288 C297.6,1279.97 298.88,1273.63 300.3,1268.3 C301.72,1262.97 303.18,1258.63 304.5,1256 C305.82,1253.37 307.03,1252.17 308.2,1252.5 C309.37,1252.83 310.57,1255.37 311.5,1258 C312.43,1260.63 312.72,1262.63 313.8,1268.3 C314.88,1273.97 316.63,1283.97 318,1292 C319.37,1300.03 320.52,1304.37 322,1316.5 C323.48,1328.63 324.98,1348.72 326.9,1364.8 C328.82,1380.88 331.55,1400.98 333.5,1413 C335.45,1425.02 336.52,1426.78 338.6,1436.9 C340.68,1447.02 343.55,1462.65 346,1473.7 C348.45,1484.75 350.6,1494.6 353.3,1503.2 C356,1511.8 358.75,1519.4 362.2,1525.3 C365.65,1531.2 369.58,1534.67 374,1538.6 C378.42,1542.53 383.3,1546.2 388.7,1548.9 C394.1,1551.6 401.18,1553.23 406.4,1554.8 C411.62,1556.37 412.73,1557.1 420,1558.3 C427.27,1559.5 436.67,1560.88 450,1562 C463.33,1563.12 473.93,1564.13 500,1565 C526.07,1565.87 588.67,1566.83 606.4,1567.2" fill="none" stroke="#008000" stroke-width="4.2" stroke-linejoin="round" clip-path="url(#clipe)" stroke-dasharray="13 10"/>
<line x1="364.6" y1="1179" x2="423.9" y2="1179" stroke="#000000" stroke-width="1.8" />
<line x1="364.6" y1="1210.1" x2="423.9" y2="1210.1" stroke="#a2142f" stroke-width="1.8" stroke-dasharray="6 2.8 1.8 2.8"/>
<line x1="364.6" y1="1249.8" x2="423.9" y2="1249.8" stroke="#0000ff" stroke-width="2" stroke-dasharray="2 2"/>
<line x1="364.6" y1="1288.3" x2="423.9" y2="1288.3" stroke="#008000" stroke-width="4" stroke-dasharray="15.5 14.5"/>
<text x="431.6" y="1186.2" font-size="20.1" text-anchor="start" font-family='"Liberation Sans", sans-serif' fill="#111" stroke="#111" stroke-width="0.5" >Baseline Pt/C</text>
<text x="431.6" y="1216.2" font-size="20.1" text-anchor="start" font-family='"Liberation Sans", sans-serif' fill="#111" stroke="#111" stroke-width="0.5" >Pt/C-[C<tspan dy="9" font-size="15.5">2</tspan><tspan dy="-9">mim]</tspan><tspan dy="-9.5" font-size="15.5">+</tspan><tspan dy="9.5">[NTf</tspan><tspan dy="9" font-size="15.5">2</tspan><tspan dy="-9">]</tspan><tspan dy="-9.5" font-size="15.5">-</tspan></text>
<text x="431.6" y="1255.2" font-size="20.1" text-anchor="start" font-family='"Liberation Sans", sans-serif' fill="#111" stroke="#111" stroke-width="0.5" >Pt/C-[C<tspan dy="9" font-size="15.5">4</tspan><tspan dy="-9">mim]</tspan><tspan dy="-9.5" font-size="15.5">+</tspan><tspan dy="9.5">[NTf</tspan><tspan dy="9" font-size="15.5">2</tspan><tspan dy="-9">]</tspan><tspan dy="-9.5" font-size="15.5">-</tspan></text>
<text x="431.6" y="1294.1" font-size="20.1" text-anchor="start" font-family='"Liberation Sans", sans-serif' fill="#111" stroke="#111" stroke-width="0.5" >Pt/C-[C<tspan dy="9" font-size="15.5">4</tspan><tspan dy="-9">dmim]</tspan><tspan dy="-9.5" font-size="15.5">+</tspan><tspan dy="9.5">[NTf</tspan><tspan dy="9" font-size="15.5">2</tspan><tspan dy="-9">]</tspan><tspan dy="-9.5" font-size="15.5">-</tspan></text>
<text x="318.5" y="1695.3" font-size="31.4" text-anchor="start" font-family='"Liberation Sans", sans-serif' fill="#222" stroke="#222" stroke-width="0.5" >Time (s)</text>
<text transform="translate(40.3,1484) rotate(-90)" stroke="#111" stroke-width="0.5" font-size="31" text-anchor="start" font-family='"Liberation Sans", sans-serif' fill="#222">Current (mA)</text>
<text x="6.2" y="1183.4" font-size="60" text-anchor="start" font-family='"Liberation Serif", serif' fill="#000" font-weight="bold">e</text>
<line x1="901.3" y1="1619.2" x2="901.3" y2="1612.7" stroke="#262626" stroke-width="1.5" />
<line x1="901.3" y1="1156.2" x2="901.3" y2="1162.7" stroke="#262626" stroke-width="1.5" />
<text x="901.3" y="1659.3" font-size="30" text-anchor="middle" font-family='"Liberation Sans", sans-serif' fill="#222" stroke="#222" stroke-width="0.5" >0</text>
<line x1="1038.12" y1="1619.2" x2="1038.12" y2="1612.7" stroke="#262626" stroke-width="1.5" />
<line x1="1038.12" y1="1156.2" x2="1038.12" y2="1162.7" stroke="#262626" stroke-width="1.5" />
<text x="1038.12" y="1659.3" font-size="30" text-anchor="middle" font-family='"Liberation Sans", sans-serif' fill="#222" stroke="#222" stroke-width="0.5" >1</text>
<line x1="1174.95" y1="1619.2" x2="1174.95" y2="1612.7" stroke="#262626" stroke-width="1.5" />
<line x1="1174.95" y1="1156.2" x2="1174.95" y2="1162.7" stroke="#262626" stroke-width="1.5" />
<text x="1174.95" y="1659.3" font-size="30" text-anchor="middle" font-family='"Liberation Sans", sans-serif' fill="#222" stroke="#222" stroke-width="0.5" >2</text>
<line x1="1311.77" y1="1619.2" x2="1311.77" y2="1612.7" stroke="#262626" stroke-width="1.5" />
<line x1="1311.77" y1="1156.2" x2="1311.77" y2="1162.7" stroke="#262626" stroke-width="1.5" />
<text x="1311.77" y="1659.3" font-size="30" text-anchor="middle" font-family='"Liberation Sans", sans-serif' fill="#222" stroke="#222" stroke-width="0.5" >3</text>
<line x1="1448.6" y1="1619.2" x2="1448.6" y2="1612.7" stroke="#262626" stroke-width="1.5" />
<line x1="1448.6" y1="1156.2" x2="1448.6" y2="1162.7" stroke="#262626" stroke-width="1.5" />
<text x="1448.6" y="1659.3" font-size="30" text-anchor="middle" font-family='"Liberation Sans", sans-serif' fill="#222" stroke="#222" stroke-width="0.5" >4</text>
<line x1="901.3" y1="1619.2" x2="907.8" y2="1619.2" stroke="#262626" stroke-width="1.5" />
<line x1="1448.6" y1="1619.2" x2="1442.1" y2="1619.2" stroke="#262626" stroke-width="1.5" />
<text x="888.2" y="1629.5" font-size="30" text-anchor="end" font-family='"Liberation Sans", sans-serif' fill="#222" stroke="#222" stroke-width="0.5" >0</text>
<line x1="901.3" y1="1503.45" x2="907.8" y2="1503.45" stroke="#262626" stroke-width="1.5" />
<line x1="1448.6" y1="1503.45" x2="1442.1" y2="1503.45" stroke="#262626" stroke-width="1.5" />
<text x="888.2" y="1513.75" font-size="30" text-anchor="end" font-family='"Liberation Sans", sans-serif' fill="#222" stroke="#222" stroke-width="0.5" >0.1</text>
<line x1="901.3" y1="1387.7" x2="907.8" y2="1387.7" stroke="#262626" stroke-width="1.5" />
<line x1="1448.6" y1="1387.7" x2="1442.1" y2="1387.7" stroke="#262626" stroke-width="1.5" />
<text x="888.2" y="1398" font-size="30" text-anchor="end" font-family='"Liberation Sans", sans-serif' fill="#222" stroke="#222" stroke-width="0.5" >0.2</text>
<line x1="901.3" y1="1271.95" x2="907.8" y2="1271.95" stroke="#262626" stroke-width="1.5" />
<line x1="1448.6" y1="1271.95" x2="1442.1" y2="1271.95" stroke="#262626" stroke-width="1.5" />
<text x="888.2" y="1282.25" font-size="30" text-anchor="end" font-family='"Liberation Sans", sans-serif' fill="#222" stroke="#222" stroke-width="0.5" >0.3</text>
<line x1="901.3" y1="1156.2" x2="907.8" y2="1156.2" stroke="#262626" stroke-width="1.5" />
<line x1="1448.6" y1="1156.2" x2="1442.1" y2="1156.2" stroke="#262626" stroke-width="1.5" />
<text x="888.2" y="1166.5" font-size="30" text-anchor="end" font-family='"Liberation Sans", sans-serif' fill="#222" stroke="#222" stroke-width="0.5" >0.4</text>
<rect x="901.3" y="1156.2" width="547.3" height="463.0" fill="none" stroke="#262626" stroke-width="1.9"/>
<line x1="991" y1="1549.8" x2="1437.7" y2="1168.1" stroke="#000000" stroke-width="1.6" stroke-dasharray="12.5 7"/>
<circle cx="1441.4" cy="1208.8" r="8.2" fill="#000000"/>
<circle cx="1221" cy="1310" r="8.2" fill="#000000"/>
<circle cx="1164.9" cy="1417" r="8.2" fill="#000000"/>
<circle cx="1179.9" cy="1460.1" r="8.2" fill="#000000"/>
<text x="983.2" y="1703.3" font-size="31.5" text-anchor="start" font-family='"Liberation Sans", sans-serif' fill="#222" stroke="#222" stroke-width="0.5" >Proton conductivity (S m<tspan dy="-14" font-size="22">-1</tspan><tspan dy="14">)</tspan></text>
<text transform="translate(819.8,1619) rotate(-90)" stroke="#111" stroke-width="0.5" font-size="31" text-anchor="start" font-family='"Liberation Sans", sans-serif' fill="#222">Transport resistance (s cm<tspan dy="-14" font-size="22">-1</tspan><tspan dy="14">)</tspan></text>
<text transform="translate(801.0,1182.6) scale(1.25,1)" font-size="52" font-family='"Liberation Serif", serif' fill="#000">f</text>
</svg>
</body></html>
